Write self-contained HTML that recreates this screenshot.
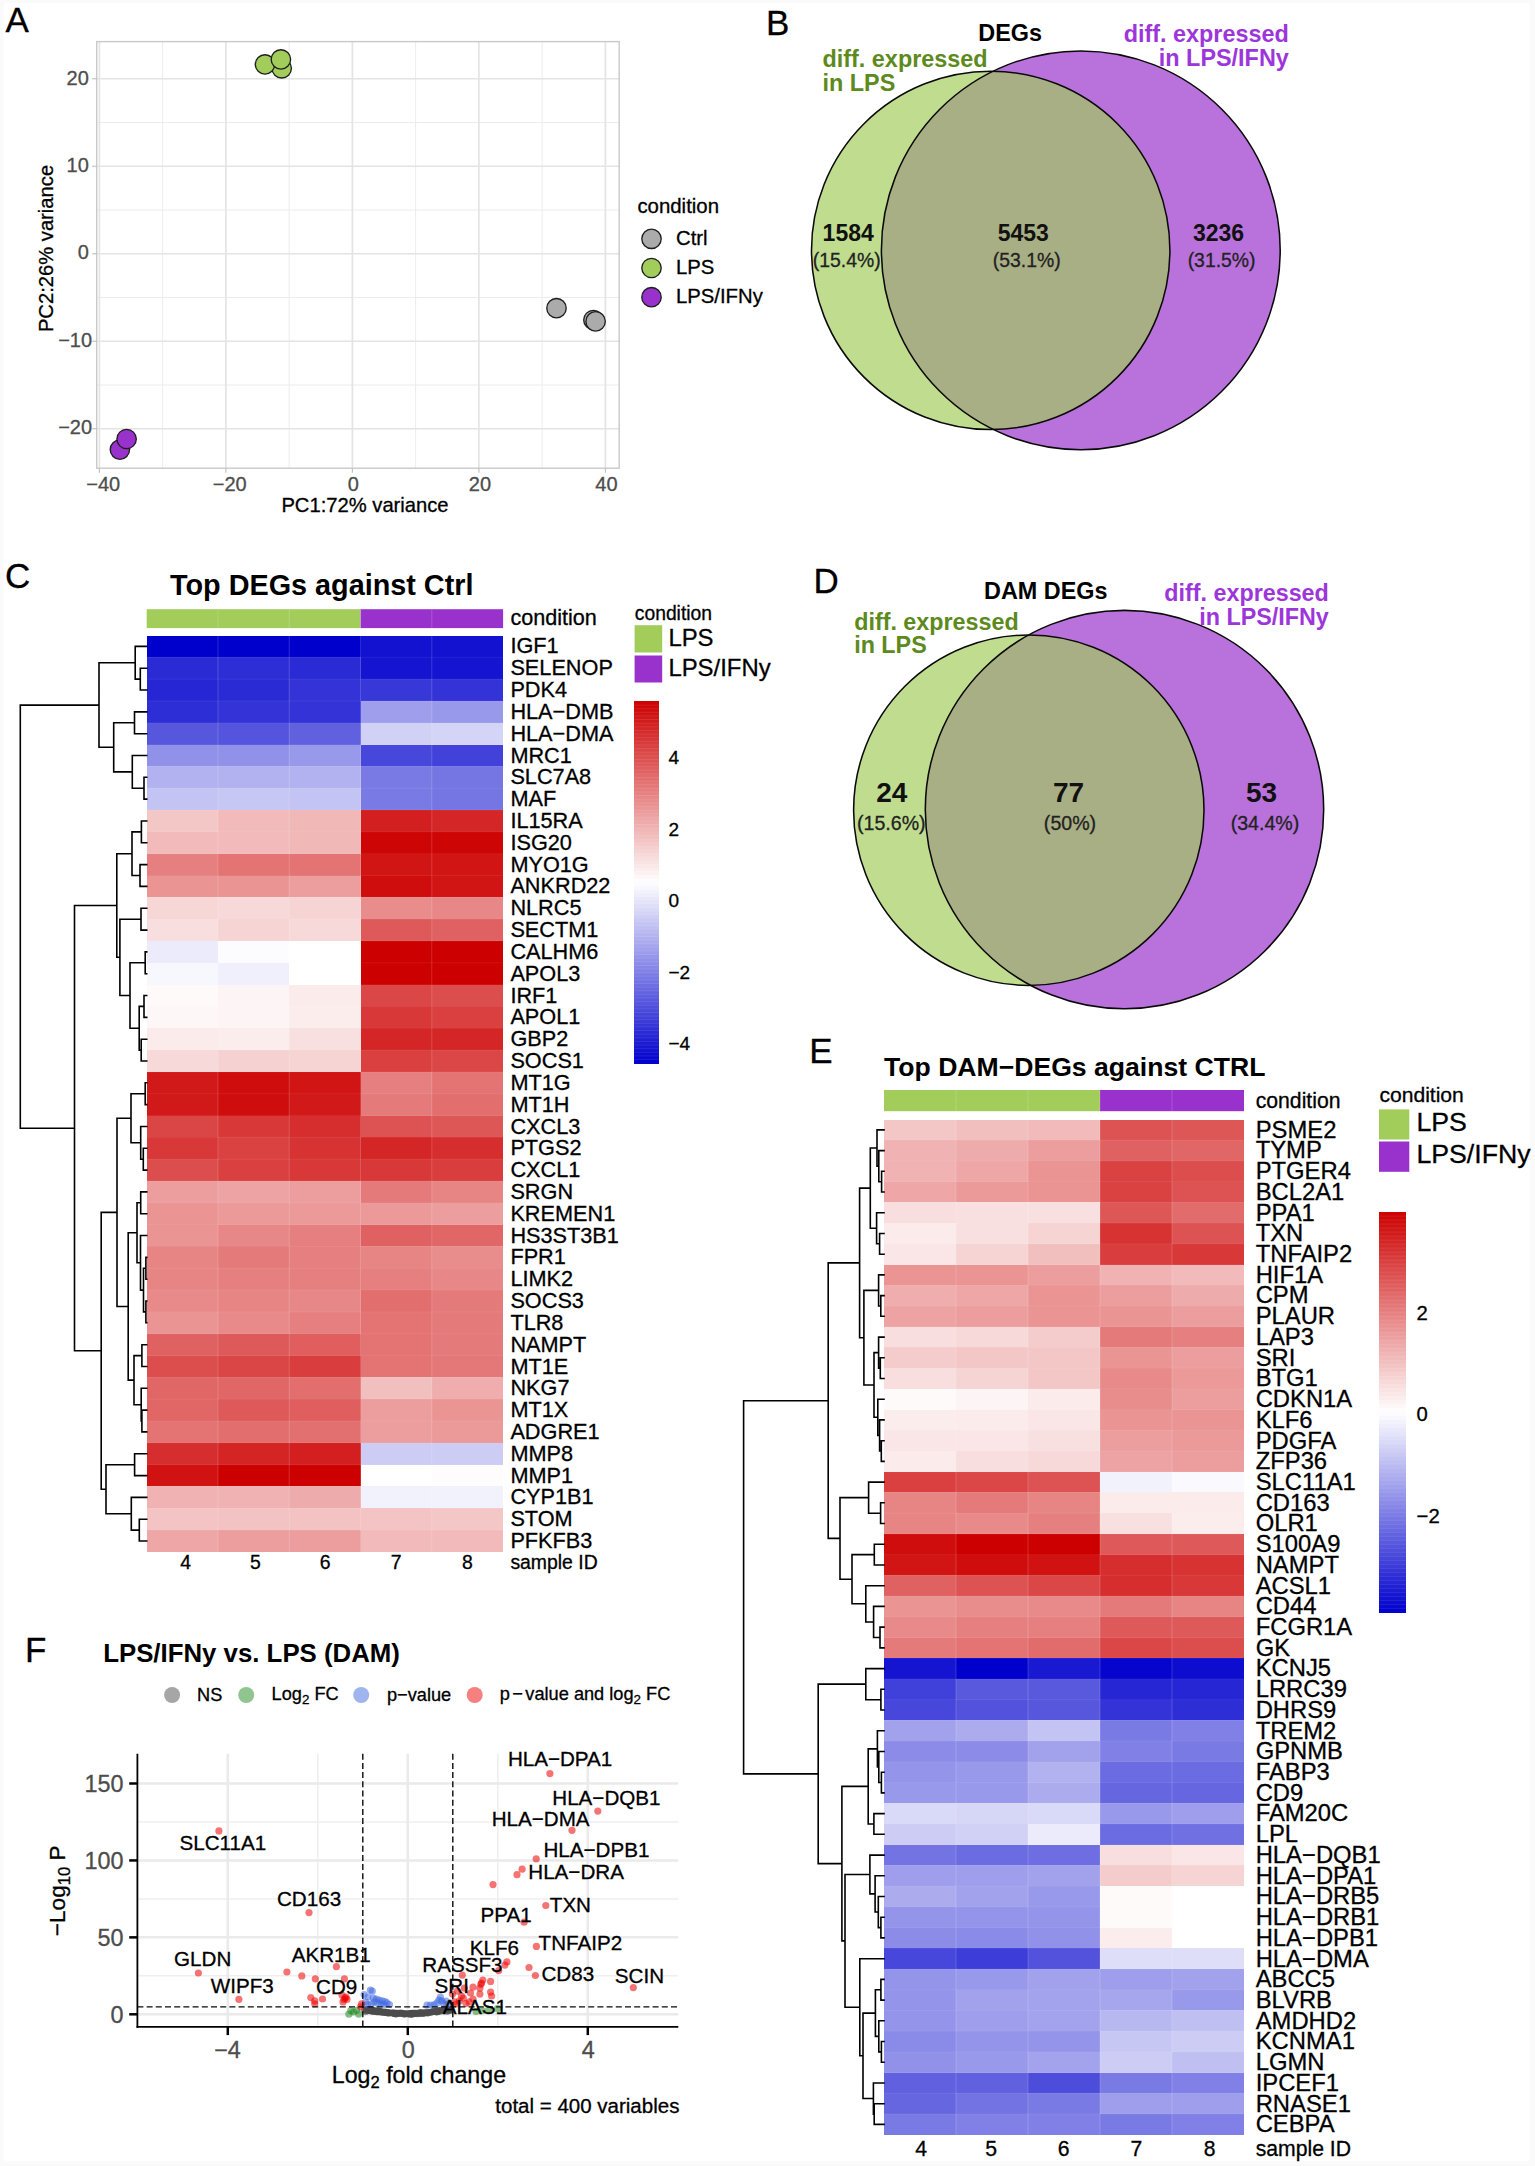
<!DOCTYPE html>
<html lang="en">
<head>
<meta charset="utf-8">
<title>Figure</title>
<style>
html,body{margin:0;padding:0;background:#fafafa;}
svg{display:block;font-family:"Liberation Sans",Arial,Helvetica,sans-serif;}
</style>
</head>
<body>
<svg width="1535" height="2166" viewBox="0 0 1535 2166">
<rect x="0" y="0" width="1535" height="2166" fill="#fafafa"/>
<rect x="3.5" y="3" width="1526.5" height="2158" rx="4" fill="#fff"/>
<g id="panelA">
<text x="5.5" y="31.8" font-size="35" stroke="#000" stroke-width="0.3">A</text>
<line x1="162.65" y1="41.60" x2="162.65" y2="468.20" stroke="#ececec" stroke-width="1.0"/>
<line x1="289.15" y1="41.60" x2="289.15" y2="468.20" stroke="#ececec" stroke-width="1.0"/>
<line x1="415.65" y1="41.60" x2="415.65" y2="468.20" stroke="#ececec" stroke-width="1.0"/>
<line x1="542.15" y1="41.60" x2="542.15" y2="468.20" stroke="#ececec" stroke-width="1.0"/>
<line x1="96.70" y1="385.00" x2="619.20" y2="385.00" stroke="#ececec" stroke-width="1.0"/>
<line x1="96.70" y1="297.50" x2="619.20" y2="297.50" stroke="#ececec" stroke-width="1.0"/>
<line x1="96.70" y1="210.00" x2="619.20" y2="210.00" stroke="#ececec" stroke-width="1.0"/>
<line x1="96.70" y1="122.50" x2="619.20" y2="122.50" stroke="#ececec" stroke-width="1.0"/>
<line x1="99.40" y1="41.60" x2="99.40" y2="468.20" stroke="#e4e4e4" stroke-width="1.7"/>
<line x1="225.90" y1="41.60" x2="225.90" y2="468.20" stroke="#e4e4e4" stroke-width="1.7"/>
<line x1="352.40" y1="41.60" x2="352.40" y2="468.20" stroke="#e4e4e4" stroke-width="1.7"/>
<line x1="478.90" y1="41.60" x2="478.90" y2="468.20" stroke="#e4e4e4" stroke-width="1.7"/>
<line x1="605.40" y1="41.60" x2="605.40" y2="468.20" stroke="#e4e4e4" stroke-width="1.7"/>
<line x1="96.70" y1="428.75" x2="619.20" y2="428.75" stroke="#e4e4e4" stroke-width="1.7"/>
<line x1="96.70" y1="341.25" x2="619.20" y2="341.25" stroke="#e4e4e4" stroke-width="1.7"/>
<line x1="96.70" y1="253.75" x2="619.20" y2="253.75" stroke="#e4e4e4" stroke-width="1.7"/>
<line x1="96.70" y1="166.25" x2="619.20" y2="166.25" stroke="#e4e4e4" stroke-width="1.7"/>
<line x1="96.70" y1="78.75" x2="619.20" y2="78.75" stroke="#e4e4e4" stroke-width="1.7"/>
<rect x="96.7" y="41.6" width="522.5" height="426.6" fill="none" stroke="#c9c9c9" stroke-width="1.4"/>
<line x1="99.40" y1="468.20" x2="99.40" y2="472.70" stroke="#bdbdbd" stroke-width="1.1"/>
<text x="103.2" y="490.7" font-size="20" text-anchor="middle" fill="#4d4d4d" stroke="#4d4d4d" stroke-width="0.3">−40</text>
<line x1="225.90" y1="468.20" x2="225.90" y2="472.70" stroke="#bdbdbd" stroke-width="1.1"/>
<text x="229.7" y="490.7" font-size="20" text-anchor="middle" fill="#4d4d4d" stroke="#4d4d4d" stroke-width="0.3">−20</text>
<line x1="352.40" y1="468.20" x2="352.40" y2="472.70" stroke="#bdbdbd" stroke-width="1.1"/>
<text x="353.2" y="490.7" font-size="20" text-anchor="middle" fill="#4d4d4d" stroke="#4d4d4d" stroke-width="0.3">0</text>
<line x1="478.90" y1="468.20" x2="478.90" y2="472.70" stroke="#bdbdbd" stroke-width="1.1"/>
<text x="479.9" y="490.7" font-size="20" text-anchor="middle" fill="#4d4d4d" stroke="#4d4d4d" stroke-width="0.3">20</text>
<line x1="605.40" y1="468.20" x2="605.40" y2="472.70" stroke="#bdbdbd" stroke-width="1.1"/>
<text x="606.4" y="490.7" font-size="20" text-anchor="middle" fill="#4d4d4d" stroke="#4d4d4d" stroke-width="0.3">40</text>
<line x1="92.20" y1="428.75" x2="96.70" y2="428.75" stroke="#bdbdbd" stroke-width="1.1"/>
<text x="92.1" y="434.4" font-size="20" text-anchor="end" fill="#4d4d4d" stroke="#4d4d4d" stroke-width="0.3">−20</text>
<line x1="92.20" y1="341.25" x2="96.70" y2="341.25" stroke="#bdbdbd" stroke-width="1.1"/>
<text x="92.1" y="346.9" font-size="20" text-anchor="end" fill="#4d4d4d" stroke="#4d4d4d" stroke-width="0.3">−10</text>
<line x1="92.20" y1="253.75" x2="96.70" y2="253.75" stroke="#bdbdbd" stroke-width="1.1"/>
<text x="88.8" y="259.4" font-size="20" text-anchor="end" fill="#4d4d4d" stroke="#4d4d4d" stroke-width="0.3">0</text>
<line x1="92.20" y1="166.25" x2="96.70" y2="166.25" stroke="#bdbdbd" stroke-width="1.1"/>
<text x="88.8" y="171.9" font-size="20" text-anchor="end" fill="#4d4d4d" stroke="#4d4d4d" stroke-width="0.3">10</text>
<line x1="92.20" y1="78.75" x2="96.70" y2="78.75" stroke="#bdbdbd" stroke-width="1.1"/>
<text x="88.8" y="84.5" font-size="20" text-anchor="end" fill="#4d4d4d" stroke="#4d4d4d" stroke-width="0.3">20</text>
<text x="365.0" y="512.1" font-size="20.2" text-anchor="middle" stroke="#000" stroke-width="0.3">PC1:72% variance</text>
<text transform="translate(52.5,248.5) rotate(-90)" font-size="20.2" text-anchor="middle" stroke="#000" stroke-width="0.3">PC2:26% variance</text>
<circle cx="281.7" cy="68.3" r="9.7" fill="#A2CD5A" stroke="#1e1e1e" stroke-width="1.35"/>
<circle cx="265.0" cy="64.4" r="9.7" fill="#A2CD5A" stroke="#1e1e1e" stroke-width="1.35"/>
<circle cx="280.9" cy="59.4" r="9.7" fill="#A2CD5A" stroke="#1e1e1e" stroke-width="1.35"/>
<circle cx="119.9" cy="449.6" r="9.7" fill="#9932CC" stroke="#1e1e1e" stroke-width="1.35"/>
<circle cx="126.6" cy="439.0" r="9.7" fill="#9932CC" stroke="#1e1e1e" stroke-width="1.35"/>
<circle cx="556.5" cy="308.2" r="9.7" fill="#ababab" stroke="#1e1e1e" stroke-width="1.35"/>
<circle cx="593.4" cy="320.0" r="9.7" fill="#ababab" stroke="#1e1e1e" stroke-width="1.35"/>
<circle cx="595.6" cy="321.4" r="9.7" fill="#ababab" stroke="#1e1e1e" stroke-width="1.35"/>
<text x="637.4" y="213.0" font-size="20.4" stroke="#000" stroke-width="0.3">condition</text>
<circle cx="651.5" cy="238.8" r="9.7" fill="#ababab" stroke="#1e1e1e" stroke-width="1.35"/>
<text x="676.0" y="245.0" font-size="20.3" stroke="#000" stroke-width="0.3">Ctrl</text>
<circle cx="651.5" cy="268.0" r="9.7" fill="#A2CD5A" stroke="#1e1e1e" stroke-width="1.35"/>
<text x="676.0" y="274.2" font-size="20.3" stroke="#000" stroke-width="0.3">LPS</text>
<circle cx="651.5" cy="297.2" r="9.7" fill="#9932CC" stroke="#1e1e1e" stroke-width="1.35"/>
<text x="676.0" y="303.4" font-size="20.3" stroke="#000" stroke-width="0.3">LPS/IFNy</text>
</g>
<g id="panelB">
<circle cx="1080.8" cy="250.3" r="199.4" fill="#9932CC" fill-opacity="0.69"/>
<circle cx="990.7" cy="250.4" r="179.2" fill="#A2CD5A" fill-opacity="0.68"/>
<circle cx="1080.8" cy="250.3" r="199.4" fill="none" stroke="#0a0a0a" stroke-width="1.55"/>
<circle cx="990.7" cy="250.4" r="179.2" fill="none" stroke="#0a0a0a" stroke-width="1.55"/>
<text x="766.0" y="35.2" font-size="35" stroke="#000" stroke-width="0.3">B</text>
<text x="1010.2" y="40.7" font-size="23.4" text-anchor="middle" font-weight="bold">DEGs</text>
<text x="822.5" y="67.4" font-size="23.4" font-weight="bold" fill="#5d8a1c">diff. expressed</text>
<text x="822.5" y="91.3" font-size="23.4" font-weight="bold" fill="#5d8a1c">in LPS</text>
<text x="1288.8" y="41.6" font-size="23.4" text-anchor="end" font-weight="bold" fill="#9d36da">diff. expressed</text>
<text x="1288.8" y="65.9" font-size="23.4" text-anchor="end" font-weight="bold" fill="#9d36da">in LPS/IFNy</text>
<text x="848.2" y="240.7" font-size="23" text-anchor="middle" font-weight="bold" fill="#111">1584</text>
<text x="846.7" y="267.3" font-size="19.4" text-anchor="middle" fill="#222" stroke="#222" stroke-width="0.3">(15.4%)</text>
<text x="1023.3" y="240.7" font-size="23" text-anchor="middle" font-weight="bold" fill="#111">5453</text>
<text x="1026.8" y="267.3" font-size="19.4" text-anchor="middle" fill="#222" stroke="#222" stroke-width="0.3">(53.1%)</text>
<text x="1218.6" y="240.7" font-size="23" text-anchor="middle" font-weight="bold" fill="#111">3236</text>
<text x="1221.6" y="267.3" font-size="19.4" text-anchor="middle" fill="#222" stroke="#222" stroke-width="0.3">(31.5%)</text>
</g>
<g id="panelD">
<circle cx="1124.5" cy="809.6" r="199.2" fill="#9932CC" fill-opacity="0.69"/>
<circle cx="1028.8" cy="810.2" r="175.2" fill="#A2CD5A" fill-opacity="0.68"/>
<circle cx="1124.5" cy="809.6" r="199.2" fill="none" stroke="#0a0a0a" stroke-width="1.55"/>
<circle cx="1028.8" cy="810.2" r="175.2" fill="none" stroke="#0a0a0a" stroke-width="1.55"/>
<text x="813.5" y="593.0" font-size="35" stroke="#000" stroke-width="0.3">D</text>
<text x="1045.8" y="599.0" font-size="23.4" text-anchor="middle" font-weight="bold">DAM DEGs</text>
<text x="854.2" y="629.5" font-size="23.3" font-weight="bold" fill="#5d8a1c">diff. expressed</text>
<text x="854.2" y="653.3" font-size="23.3" font-weight="bold" fill="#5d8a1c">in LPS</text>
<text x="1328.8" y="600.9" font-size="23.3" text-anchor="end" font-weight="bold" fill="#9d36da">diff. expressed</text>
<text x="1328.8" y="624.7" font-size="23.3" text-anchor="end" font-weight="bold" fill="#9d36da">in LPS/IFNy</text>
<text x="891.8" y="802.3" font-size="28" text-anchor="middle" font-weight="bold" fill="#111">24</text>
<text x="891.3" y="830.0" font-size="19.6" text-anchor="middle" fill="#222" stroke="#222" stroke-width="0.3">(15.6%)</text>
<text x="1068.5" y="802.3" font-size="28" text-anchor="middle" font-weight="bold" fill="#111">77</text>
<text x="1070.0" y="830.0" font-size="19.6" text-anchor="middle" fill="#222" stroke="#222" stroke-width="0.3">(50%)</text>
<text x="1261.5" y="802.3" font-size="28" text-anchor="middle" font-weight="bold" fill="#111">53</text>
<text x="1265.0" y="830.0" font-size="19.6" text-anchor="middle" fill="#222" stroke="#222" stroke-width="0.3">(34.4%)</text>
</g>
<text x="4.9" y="588.4" font-size="35" stroke="#000" stroke-width="0.3">C</text>
<text x="170.0" y="594.6" font-size="28.8" font-weight="bold">Top DEGs against Ctrl</text>
<g id="panelC">
<rect x="146.70" y="609.20" width="213.84" height="18.90" fill="#A2CD5A"/>
<rect x="360.54" y="609.20" width="142.56" height="18.90" fill="#9932CC"/>
<g shape-rendering="crispEdges">
<rect x="146.70" y="635.50" width="71.58" height="22.12" fill="#0000cd"/>
<rect x="217.98" y="635.50" width="71.58" height="22.12" fill="#0000cd"/>
<rect x="289.26" y="635.50" width="71.58" height="22.12" fill="#0000cd"/>
<rect x="360.54" y="635.50" width="71.58" height="22.12" fill="#1212d0"/>
<rect x="431.82" y="635.50" width="71.28" height="22.12" fill="#1212d0"/>
<rect x="146.70" y="657.32" width="71.58" height="22.12" fill="#2b2bd6"/>
<rect x="217.98" y="657.32" width="71.58" height="22.12" fill="#2e2ed6"/>
<rect x="289.26" y="657.32" width="71.58" height="22.12" fill="#2b2bd6"/>
<rect x="360.54" y="657.32" width="71.58" height="22.12" fill="#1414d1"/>
<rect x="431.82" y="657.32" width="71.28" height="22.12" fill="#1414d1"/>
<rect x="146.70" y="679.14" width="71.58" height="22.12" fill="#2626d4"/>
<rect x="217.98" y="679.14" width="71.58" height="22.12" fill="#2b2bd6"/>
<rect x="289.26" y="679.14" width="71.58" height="22.12" fill="#3333d7"/>
<rect x="360.54" y="679.14" width="71.58" height="22.12" fill="#3838d8"/>
<rect x="431.82" y="679.14" width="71.28" height="22.12" fill="#3333d7"/>
<rect x="146.70" y="700.96" width="71.58" height="22.12" fill="#2e2ed6"/>
<rect x="217.98" y="700.96" width="71.58" height="22.12" fill="#3333d7"/>
<rect x="289.26" y="700.96" width="71.58" height="22.12" fill="#3333d7"/>
<rect x="360.54" y="700.96" width="71.58" height="22.12" fill="#9e9eec"/>
<rect x="431.82" y="700.96" width="71.28" height="22.12" fill="#9999eb"/>
<rect x="146.70" y="722.78" width="71.58" height="22.12" fill="#5757de"/>
<rect x="217.98" y="722.78" width="71.58" height="22.12" fill="#5454de"/>
<rect x="289.26" y="722.78" width="71.58" height="22.12" fill="#6161e0"/>
<rect x="360.54" y="722.78" width="71.58" height="22.12" fill="#d1d1f6"/>
<rect x="431.82" y="722.78" width="71.28" height="22.12" fill="#d4d4f6"/>
<rect x="146.70" y="744.60" width="71.58" height="22.12" fill="#9191ea"/>
<rect x="217.98" y="744.60" width="71.58" height="22.12" fill="#9191ea"/>
<rect x="289.26" y="744.60" width="71.58" height="22.12" fill="#9999eb"/>
<rect x="360.54" y="744.60" width="71.58" height="22.12" fill="#4747db"/>
<rect x="431.82" y="744.60" width="71.28" height="22.12" fill="#4242da"/>
<rect x="146.70" y="766.42" width="71.58" height="22.12" fill="#b2b2f0"/>
<rect x="217.98" y="766.42" width="71.58" height="22.12" fill="#b2b2f0"/>
<rect x="289.26" y="766.42" width="71.58" height="22.12" fill="#b2b2f0"/>
<rect x="360.54" y="766.42" width="71.58" height="22.12" fill="#7a7ae5"/>
<rect x="431.82" y="766.42" width="71.28" height="22.12" fill="#7575e4"/>
<rect x="146.70" y="788.24" width="71.58" height="22.12" fill="#c4c4f4"/>
<rect x="217.98" y="788.24" width="71.58" height="22.12" fill="#c7c7f4"/>
<rect x="289.26" y="788.24" width="71.58" height="22.12" fill="#c4c4f4"/>
<rect x="360.54" y="788.24" width="71.58" height="22.12" fill="#7a7ae5"/>
<rect x="431.82" y="788.24" width="71.28" height="22.12" fill="#7575e4"/>
<rect x="146.70" y="810.06" width="71.58" height="22.12" fill="#f4c7c7"/>
<rect x="217.98" y="810.06" width="71.58" height="22.12" fill="#f2baba"/>
<rect x="289.26" y="810.06" width="71.58" height="22.12" fill="#f1b8b8"/>
<rect x="360.54" y="810.06" width="71.58" height="22.12" fill="#d31f1f"/>
<rect x="431.82" y="810.06" width="71.28" height="22.12" fill="#d42626"/>
<rect x="146.70" y="831.88" width="71.58" height="22.12" fill="#f2baba"/>
<rect x="217.98" y="831.88" width="71.58" height="22.12" fill="#f2baba"/>
<rect x="289.26" y="831.88" width="71.58" height="22.12" fill="#f1b8b8"/>
<rect x="360.54" y="831.88" width="71.58" height="22.12" fill="#ce0505"/>
<rect x="431.82" y="831.88" width="71.28" height="22.12" fill="#ce0505"/>
<rect x="146.70" y="853.70" width="71.58" height="22.12" fill="#e68080"/>
<rect x="217.98" y="853.70" width="71.58" height="22.12" fill="#e47373"/>
<rect x="289.26" y="853.70" width="71.58" height="22.12" fill="#e47373"/>
<rect x="360.54" y="853.70" width="71.58" height="22.12" fill="#d11414"/>
<rect x="431.82" y="853.70" width="71.28" height="22.12" fill="#d11414"/>
<rect x="146.70" y="875.52" width="71.58" height="22.12" fill="#ea9494"/>
<rect x="217.98" y="875.52" width="71.58" height="22.12" fill="#ea9494"/>
<rect x="289.26" y="875.52" width="71.58" height="22.12" fill="#ec9e9e"/>
<rect x="360.54" y="875.52" width="71.58" height="22.12" fill="#d00d0d"/>
<rect x="431.82" y="875.52" width="71.28" height="22.12" fill="#d11414"/>
<rect x="146.70" y="897.34" width="71.58" height="22.12" fill="#f7d6d6"/>
<rect x="217.98" y="897.34" width="71.58" height="22.12" fill="#f8d9d9"/>
<rect x="289.26" y="897.34" width="71.58" height="22.12" fill="#f6d4d4"/>
<rect x="360.54" y="897.34" width="71.58" height="22.12" fill="#e88c8c"/>
<rect x="431.82" y="897.34" width="71.28" height="22.12" fill="#e88787"/>
<rect x="146.70" y="919.16" width="71.58" height="22.12" fill="#f8dede"/>
<rect x="217.98" y="919.16" width="71.58" height="22.12" fill="#f6d4d4"/>
<rect x="289.26" y="919.16" width="71.58" height="22.12" fill="#f8d9d9"/>
<rect x="360.54" y="919.16" width="71.58" height="22.12" fill="#de5959"/>
<rect x="431.82" y="919.16" width="71.28" height="22.12" fill="#e06161"/>
<rect x="146.70" y="940.98" width="71.58" height="22.12" fill="#ebebfb"/>
<rect x="217.98" y="940.98" width="71.58" height="22.12" fill="#fcfcfe"/>
<rect x="289.26" y="940.98" width="71.58" height="22.12" fill="#ffffff"/>
<rect x="360.54" y="940.98" width="71.58" height="22.12" fill="#cd0000"/>
<rect x="431.82" y="940.98" width="71.28" height="22.12" fill="#cd0000"/>
<rect x="146.70" y="962.80" width="71.58" height="22.12" fill="#f7f7fe"/>
<rect x="217.98" y="962.80" width="71.58" height="22.12" fill="#f0f0fc"/>
<rect x="289.26" y="962.80" width="71.58" height="22.12" fill="#ffffff"/>
<rect x="360.54" y="962.80" width="71.58" height="22.12" fill="#cd0000"/>
<rect x="431.82" y="962.80" width="71.28" height="22.12" fill="#cd0000"/>
<rect x="146.70" y="984.62" width="71.58" height="22.12" fill="#fefafa"/>
<rect x="217.98" y="984.62" width="71.58" height="22.12" fill="#fdf5f5"/>
<rect x="289.26" y="984.62" width="71.58" height="22.12" fill="#fbebeb"/>
<rect x="360.54" y="984.62" width="71.58" height="22.12" fill="#db4747"/>
<rect x="431.82" y="984.62" width="71.28" height="22.12" fill="#dc4d4d"/>
<rect x="146.70" y="1006.44" width="71.58" height="22.12" fill="#fef7f7"/>
<rect x="217.98" y="1006.44" width="71.58" height="22.12" fill="#fdf5f5"/>
<rect x="289.26" y="1006.44" width="71.58" height="22.12" fill="#fceded"/>
<rect x="360.54" y="1006.44" width="71.58" height="22.12" fill="#d83838"/>
<rect x="431.82" y="1006.44" width="71.28" height="22.12" fill="#da4040"/>
<rect x="146.70" y="1028.26" width="71.58" height="22.12" fill="#fbebeb"/>
<rect x="217.98" y="1028.26" width="71.58" height="22.12" fill="#fceded"/>
<rect x="289.26" y="1028.26" width="71.58" height="22.12" fill="#f9e0e0"/>
<rect x="360.54" y="1028.26" width="71.58" height="22.12" fill="#d42626"/>
<rect x="431.82" y="1028.26" width="71.28" height="22.12" fill="#d42626"/>
<rect x="146.70" y="1050.08" width="71.58" height="22.12" fill="#f8d9d9"/>
<rect x="217.98" y="1050.08" width="71.58" height="22.12" fill="#f6d1d1"/>
<rect x="289.26" y="1050.08" width="71.58" height="22.12" fill="#f6d4d4"/>
<rect x="360.54" y="1050.08" width="71.58" height="22.12" fill="#da4040"/>
<rect x="431.82" y="1050.08" width="71.28" height="22.12" fill="#db4747"/>
<rect x="146.70" y="1071.90" width="71.58" height="22.12" fill="#d21919"/>
<rect x="217.98" y="1071.90" width="71.58" height="22.12" fill="#d00d0d"/>
<rect x="289.26" y="1071.90" width="71.58" height="22.12" fill="#d11414"/>
<rect x="360.54" y="1071.90" width="71.58" height="22.12" fill="#e68080"/>
<rect x="431.82" y="1071.90" width="71.28" height="22.12" fill="#e47373"/>
<rect x="146.70" y="1093.72" width="71.58" height="22.12" fill="#d21919"/>
<rect x="217.98" y="1093.72" width="71.58" height="22.12" fill="#d00d0d"/>
<rect x="289.26" y="1093.72" width="71.58" height="22.12" fill="#d21919"/>
<rect x="360.54" y="1093.72" width="71.58" height="22.12" fill="#e57a7a"/>
<rect x="431.82" y="1093.72" width="71.28" height="22.12" fill="#e26e6e"/>
<rect x="146.70" y="1115.54" width="71.58" height="22.12" fill="#da4545"/>
<rect x="217.98" y="1115.54" width="71.58" height="22.12" fill="#d83838"/>
<rect x="289.26" y="1115.54" width="71.58" height="22.12" fill="#d62e2e"/>
<rect x="360.54" y="1115.54" width="71.58" height="22.12" fill="#dd5252"/>
<rect x="431.82" y="1115.54" width="71.28" height="22.12" fill="#de5757"/>
<rect x="146.70" y="1137.36" width="71.58" height="22.12" fill="#d83838"/>
<rect x="217.98" y="1137.36" width="71.58" height="22.12" fill="#da4242"/>
<rect x="289.26" y="1137.36" width="71.58" height="22.12" fill="#d73333"/>
<rect x="360.54" y="1137.36" width="71.58" height="22.12" fill="#d42626"/>
<rect x="431.82" y="1137.36" width="71.28" height="22.12" fill="#d62e2e"/>
<rect x="146.70" y="1159.18" width="71.58" height="22.12" fill="#dc4d4d"/>
<rect x="217.98" y="1159.18" width="71.58" height="22.12" fill="#da4040"/>
<rect x="289.26" y="1159.18" width="71.58" height="22.12" fill="#d83838"/>
<rect x="360.54" y="1159.18" width="71.58" height="22.12" fill="#d83838"/>
<rect x="431.82" y="1159.18" width="71.28" height="22.12" fill="#d93d3d"/>
<rect x="146.70" y="1181.00" width="71.58" height="22.12" fill="#ec9e9e"/>
<rect x="217.98" y="1181.00" width="71.58" height="22.12" fill="#eda3a3"/>
<rect x="289.26" y="1181.00" width="71.58" height="22.12" fill="#ec9e9e"/>
<rect x="360.54" y="1181.00" width="71.58" height="22.12" fill="#e57a7a"/>
<rect x="431.82" y="1181.00" width="71.28" height="22.12" fill="#e78585"/>
<rect x="146.70" y="1202.82" width="71.58" height="22.12" fill="#ea9494"/>
<rect x="217.98" y="1202.82" width="71.58" height="22.12" fill="#eb9999"/>
<rect x="289.26" y="1202.82" width="71.58" height="22.12" fill="#eb9999"/>
<rect x="360.54" y="1202.82" width="71.58" height="22.12" fill="#eb9999"/>
<rect x="431.82" y="1202.82" width="71.28" height="22.12" fill="#ec9e9e"/>
<rect x="146.70" y="1224.64" width="71.58" height="22.12" fill="#ea9494"/>
<rect x="217.98" y="1224.64" width="71.58" height="22.12" fill="#e88787"/>
<rect x="289.26" y="1224.64" width="71.58" height="22.12" fill="#e68080"/>
<rect x="360.54" y="1224.64" width="71.58" height="22.12" fill="#e06161"/>
<rect x="431.82" y="1224.64" width="71.28" height="22.12" fill="#e16666"/>
<rect x="146.70" y="1246.46" width="71.58" height="22.12" fill="#e78585"/>
<rect x="217.98" y="1246.46" width="71.58" height="22.12" fill="#e57a7a"/>
<rect x="289.26" y="1246.46" width="71.58" height="22.12" fill="#e68080"/>
<rect x="360.54" y="1246.46" width="71.58" height="22.12" fill="#e78585"/>
<rect x="431.82" y="1246.46" width="71.28" height="22.12" fill="#e88c8c"/>
<rect x="146.70" y="1268.28" width="71.58" height="22.12" fill="#e78585"/>
<rect x="217.98" y="1268.28" width="71.58" height="22.12" fill="#e68080"/>
<rect x="289.26" y="1268.28" width="71.58" height="22.12" fill="#e68080"/>
<rect x="360.54" y="1268.28" width="71.58" height="22.12" fill="#e68080"/>
<rect x="431.82" y="1268.28" width="71.28" height="22.12" fill="#e88787"/>
<rect x="146.70" y="1290.10" width="71.58" height="22.12" fill="#e88a8a"/>
<rect x="217.98" y="1290.10" width="71.58" height="22.12" fill="#e78585"/>
<rect x="289.26" y="1290.10" width="71.58" height="22.12" fill="#e88787"/>
<rect x="360.54" y="1290.10" width="71.58" height="22.12" fill="#e26e6e"/>
<rect x="431.82" y="1290.10" width="71.28" height="22.12" fill="#e57a7a"/>
<rect x="146.70" y="1311.92" width="71.58" height="22.12" fill="#ea9494"/>
<rect x="217.98" y="1311.92" width="71.58" height="22.12" fill="#e88a8a"/>
<rect x="289.26" y="1311.92" width="71.58" height="22.12" fill="#e68080"/>
<rect x="360.54" y="1311.92" width="71.58" height="22.12" fill="#e47373"/>
<rect x="431.82" y="1311.92" width="71.28" height="22.12" fill="#e57a7a"/>
<rect x="146.70" y="1333.74" width="71.58" height="22.12" fill="#e06161"/>
<rect x="217.98" y="1333.74" width="71.58" height="22.12" fill="#de5959"/>
<rect x="289.26" y="1333.74" width="71.58" height="22.12" fill="#e05e5e"/>
<rect x="360.54" y="1333.74" width="71.58" height="22.12" fill="#e47373"/>
<rect x="431.82" y="1333.74" width="71.28" height="22.12" fill="#e57a7a"/>
<rect x="146.70" y="1355.56" width="71.58" height="22.12" fill="#dc4d4d"/>
<rect x="217.98" y="1355.56" width="71.58" height="22.12" fill="#da4545"/>
<rect x="289.26" y="1355.56" width="71.58" height="22.12" fill="#d93d3d"/>
<rect x="360.54" y="1355.56" width="71.58" height="22.12" fill="#e47373"/>
<rect x="431.82" y="1355.56" width="71.28" height="22.12" fill="#e47878"/>
<rect x="146.70" y="1377.38" width="71.58" height="22.12" fill="#e16666"/>
<rect x="217.98" y="1377.38" width="71.58" height="22.12" fill="#e16666"/>
<rect x="289.26" y="1377.38" width="71.58" height="22.12" fill="#e26e6e"/>
<rect x="360.54" y="1377.38" width="71.58" height="22.12" fill="#f2bfbf"/>
<rect x="431.82" y="1377.38" width="71.28" height="22.12" fill="#efadad"/>
<rect x="146.70" y="1399.20" width="71.58" height="22.12" fill="#e16666"/>
<rect x="217.98" y="1399.20" width="71.58" height="22.12" fill="#de5959"/>
<rect x="289.26" y="1399.20" width="71.58" height="22.12" fill="#e05e5e"/>
<rect x="360.54" y="1399.20" width="71.58" height="22.12" fill="#ec9e9e"/>
<rect x="431.82" y="1399.20" width="71.28" height="22.12" fill="#ea9494"/>
<rect x="146.70" y="1421.02" width="71.58" height="22.12" fill="#e47373"/>
<rect x="217.98" y="1421.02" width="71.58" height="22.12" fill="#e26e6e"/>
<rect x="289.26" y="1421.02" width="71.58" height="22.12" fill="#e37070"/>
<rect x="360.54" y="1421.02" width="71.58" height="22.12" fill="#ec9e9e"/>
<rect x="431.82" y="1421.02" width="71.28" height="22.12" fill="#eb9999"/>
<rect x="146.70" y="1442.84" width="71.58" height="22.12" fill="#d62e2e"/>
<rect x="217.98" y="1442.84" width="71.58" height="22.12" fill="#d42424"/>
<rect x="289.26" y="1442.84" width="71.58" height="22.12" fill="#d31f1f"/>
<rect x="360.54" y="1442.84" width="71.58" height="22.12" fill="#ccccf5"/>
<rect x="431.82" y="1442.84" width="71.28" height="22.12" fill="#ccccf5"/>
<rect x="146.70" y="1464.66" width="71.58" height="22.12" fill="#d01212"/>
<rect x="217.98" y="1464.66" width="71.58" height="22.12" fill="#cd0000"/>
<rect x="289.26" y="1464.66" width="71.58" height="22.12" fill="#cd0000"/>
<rect x="360.54" y="1464.66" width="71.58" height="22.12" fill="#ffffff"/>
<rect x="431.82" y="1464.66" width="71.28" height="22.12" fill="#fefcfc"/>
<rect x="146.70" y="1486.48" width="71.58" height="22.12" fill="#f0b2b2"/>
<rect x="217.98" y="1486.48" width="71.58" height="22.12" fill="#f0b2b2"/>
<rect x="289.26" y="1486.48" width="71.58" height="22.12" fill="#eeabab"/>
<rect x="360.54" y="1486.48" width="71.58" height="22.12" fill="#f2f2fc"/>
<rect x="431.82" y="1486.48" width="71.28" height="22.12" fill="#f2f2fc"/>
<rect x="146.70" y="1508.30" width="71.58" height="22.12" fill="#f4c4c4"/>
<rect x="217.98" y="1508.30" width="71.58" height="22.12" fill="#f3c2c2"/>
<rect x="289.26" y="1508.30" width="71.58" height="22.12" fill="#f3c2c2"/>
<rect x="360.54" y="1508.30" width="71.58" height="22.12" fill="#f4c4c4"/>
<rect x="431.82" y="1508.30" width="71.28" height="22.12" fill="#f4c7c7"/>
<rect x="146.70" y="1530.12" width="71.58" height="21.82" fill="#eea6a6"/>
<rect x="217.98" y="1530.12" width="71.58" height="21.82" fill="#ec9e9e"/>
<rect x="289.26" y="1530.12" width="71.58" height="21.82" fill="#ec9e9e"/>
<rect x="360.54" y="1530.12" width="71.58" height="21.82" fill="#f2baba"/>
<rect x="431.82" y="1530.12" width="71.28" height="21.82" fill="#f2baba"/>
</g>
<line x1="217.98" y1="609.20" x2="217.98" y2="628.10" stroke="#fff" stroke-width="0.8" stroke-opacity="0.22"/>
<line x1="217.98" y1="635.50" x2="217.98" y2="1551.94" stroke="#fff" stroke-width="0.8" stroke-opacity="0.22"/>
<line x1="289.26" y1="609.20" x2="289.26" y2="628.10" stroke="#fff" stroke-width="0.8" stroke-opacity="0.22"/>
<line x1="289.26" y1="635.50" x2="289.26" y2="1551.94" stroke="#fff" stroke-width="0.8" stroke-opacity="0.22"/>
<line x1="360.54" y1="609.20" x2="360.54" y2="628.10" stroke="#fff" stroke-width="0.8" stroke-opacity="0.22"/>
<line x1="360.54" y1="635.50" x2="360.54" y2="1551.94" stroke="#fff" stroke-width="0.8" stroke-opacity="0.22"/>
<line x1="431.82" y1="609.20" x2="431.82" y2="628.10" stroke="#fff" stroke-width="0.8" stroke-opacity="0.22"/>
<line x1="431.82" y1="635.50" x2="431.82" y2="1551.94" stroke="#fff" stroke-width="0.8" stroke-opacity="0.22"/>
<line x1="146.70" y1="657.32" x2="503.10" y2="657.32" stroke="#fff" stroke-width="0.6" stroke-opacity="0.12"/>
<line x1="146.70" y1="679.14" x2="503.10" y2="679.14" stroke="#fff" stroke-width="0.6" stroke-opacity="0.12"/>
<line x1="146.70" y1="700.96" x2="503.10" y2="700.96" stroke="#fff" stroke-width="0.6" stroke-opacity="0.12"/>
<line x1="146.70" y1="722.78" x2="503.10" y2="722.78" stroke="#fff" stroke-width="0.6" stroke-opacity="0.12"/>
<line x1="146.70" y1="744.60" x2="503.10" y2="744.60" stroke="#fff" stroke-width="0.6" stroke-opacity="0.12"/>
<line x1="146.70" y1="766.42" x2="503.10" y2="766.42" stroke="#fff" stroke-width="0.6" stroke-opacity="0.12"/>
<line x1="146.70" y1="788.24" x2="503.10" y2="788.24" stroke="#fff" stroke-width="0.6" stroke-opacity="0.12"/>
<line x1="146.70" y1="810.06" x2="503.10" y2="810.06" stroke="#fff" stroke-width="0.6" stroke-opacity="0.12"/>
<line x1="146.70" y1="831.88" x2="503.10" y2="831.88" stroke="#fff" stroke-width="0.6" stroke-opacity="0.12"/>
<line x1="146.70" y1="853.70" x2="503.10" y2="853.70" stroke="#fff" stroke-width="0.6" stroke-opacity="0.12"/>
<line x1="146.70" y1="875.52" x2="503.10" y2="875.52" stroke="#fff" stroke-width="0.6" stroke-opacity="0.12"/>
<line x1="146.70" y1="897.34" x2="503.10" y2="897.34" stroke="#fff" stroke-width="0.6" stroke-opacity="0.12"/>
<line x1="146.70" y1="919.16" x2="503.10" y2="919.16" stroke="#fff" stroke-width="0.6" stroke-opacity="0.12"/>
<line x1="146.70" y1="940.98" x2="503.10" y2="940.98" stroke="#fff" stroke-width="0.6" stroke-opacity="0.12"/>
<line x1="146.70" y1="962.80" x2="503.10" y2="962.80" stroke="#fff" stroke-width="0.6" stroke-opacity="0.12"/>
<line x1="146.70" y1="984.62" x2="503.10" y2="984.62" stroke="#fff" stroke-width="0.6" stroke-opacity="0.12"/>
<line x1="146.70" y1="1006.44" x2="503.10" y2="1006.44" stroke="#fff" stroke-width="0.6" stroke-opacity="0.12"/>
<line x1="146.70" y1="1028.26" x2="503.10" y2="1028.26" stroke="#fff" stroke-width="0.6" stroke-opacity="0.12"/>
<line x1="146.70" y1="1050.08" x2="503.10" y2="1050.08" stroke="#fff" stroke-width="0.6" stroke-opacity="0.12"/>
<line x1="146.70" y1="1071.90" x2="503.10" y2="1071.90" stroke="#fff" stroke-width="0.6" stroke-opacity="0.12"/>
<line x1="146.70" y1="1093.72" x2="503.10" y2="1093.72" stroke="#fff" stroke-width="0.6" stroke-opacity="0.12"/>
<line x1="146.70" y1="1115.54" x2="503.10" y2="1115.54" stroke="#fff" stroke-width="0.6" stroke-opacity="0.12"/>
<line x1="146.70" y1="1137.36" x2="503.10" y2="1137.36" stroke="#fff" stroke-width="0.6" stroke-opacity="0.12"/>
<line x1="146.70" y1="1159.18" x2="503.10" y2="1159.18" stroke="#fff" stroke-width="0.6" stroke-opacity="0.12"/>
<line x1="146.70" y1="1181.00" x2="503.10" y2="1181.00" stroke="#fff" stroke-width="0.6" stroke-opacity="0.12"/>
<line x1="146.70" y1="1202.82" x2="503.10" y2="1202.82" stroke="#fff" stroke-width="0.6" stroke-opacity="0.12"/>
<line x1="146.70" y1="1224.64" x2="503.10" y2="1224.64" stroke="#fff" stroke-width="0.6" stroke-opacity="0.12"/>
<line x1="146.70" y1="1246.46" x2="503.10" y2="1246.46" stroke="#fff" stroke-width="0.6" stroke-opacity="0.12"/>
<line x1="146.70" y1="1268.28" x2="503.10" y2="1268.28" stroke="#fff" stroke-width="0.6" stroke-opacity="0.12"/>
<line x1="146.70" y1="1290.10" x2="503.10" y2="1290.10" stroke="#fff" stroke-width="0.6" stroke-opacity="0.12"/>
<line x1="146.70" y1="1311.92" x2="503.10" y2="1311.92" stroke="#fff" stroke-width="0.6" stroke-opacity="0.12"/>
<line x1="146.70" y1="1333.74" x2="503.10" y2="1333.74" stroke="#fff" stroke-width="0.6" stroke-opacity="0.12"/>
<line x1="146.70" y1="1355.56" x2="503.10" y2="1355.56" stroke="#fff" stroke-width="0.6" stroke-opacity="0.12"/>
<line x1="146.70" y1="1377.38" x2="503.10" y2="1377.38" stroke="#fff" stroke-width="0.6" stroke-opacity="0.12"/>
<line x1="146.70" y1="1399.20" x2="503.10" y2="1399.20" stroke="#fff" stroke-width="0.6" stroke-opacity="0.12"/>
<line x1="146.70" y1="1421.02" x2="503.10" y2="1421.02" stroke="#fff" stroke-width="0.6" stroke-opacity="0.12"/>
<line x1="146.70" y1="1442.84" x2="503.10" y2="1442.84" stroke="#fff" stroke-width="0.6" stroke-opacity="0.12"/>
<line x1="146.70" y1="1464.66" x2="503.10" y2="1464.66" stroke="#fff" stroke-width="0.6" stroke-opacity="0.12"/>
<line x1="146.70" y1="1486.48" x2="503.10" y2="1486.48" stroke="#fff" stroke-width="0.6" stroke-opacity="0.12"/>
<line x1="146.70" y1="1508.30" x2="503.10" y2="1508.30" stroke="#fff" stroke-width="0.6" stroke-opacity="0.12"/>
<line x1="146.70" y1="1530.12" x2="503.10" y2="1530.12" stroke="#fff" stroke-width="0.6" stroke-opacity="0.12"/>
<g font-size="21.7" stroke="#000" stroke-width="0.3">
<text x="510.4" y="653.4">IGF1</text>
<text x="510.4" y="675.2">SELENOP</text>
<text x="510.4" y="697.0">PDK4</text>
<text x="510.4" y="718.9">HLA−DMB</text>
<text x="510.4" y="740.7">HLA−DMA</text>
<text x="510.4" y="762.5">MRC1</text>
<text x="510.4" y="784.3">SLC7A8</text>
<text x="510.4" y="806.1">MAF</text>
<text x="510.4" y="828.0">IL15RA</text>
<text x="510.4" y="849.8">ISG20</text>
<text x="510.4" y="871.6">MYO1G</text>
<text x="510.4" y="893.4">ANKRD22</text>
<text x="510.4" y="915.2">NLRC5</text>
<text x="510.4" y="937.1">SECTM1</text>
<text x="510.4" y="958.9">CALHM6</text>
<text x="510.4" y="980.7">APOL3</text>
<text x="510.4" y="1002.5">IRF1</text>
<text x="510.4" y="1024.3">APOL1</text>
<text x="510.4" y="1046.2">GBP2</text>
<text x="510.4" y="1068.0">SOCS1</text>
<text x="510.4" y="1089.8">MT1G</text>
<text x="510.4" y="1111.6">MT1H</text>
<text x="510.4" y="1133.5">CXCL3</text>
<text x="510.4" y="1155.3">PTGS2</text>
<text x="510.4" y="1177.1">CXCL1</text>
<text x="510.4" y="1198.9">SRGN</text>
<text x="510.4" y="1220.7">KREMEN1</text>
<text x="510.4" y="1242.5">HS3ST3B1</text>
<text x="510.4" y="1264.4">FPR1</text>
<text x="510.4" y="1286.2">LIMK2</text>
<text x="510.4" y="1308.0">SOCS3</text>
<text x="510.4" y="1329.8">TLR8</text>
<text x="510.4" y="1351.7">NAMPT</text>
<text x="510.4" y="1373.5">MT1E</text>
<text x="510.4" y="1395.3">NKG7</text>
<text x="510.4" y="1417.1">MT1X</text>
<text x="510.4" y="1438.9">ADGRE1</text>
<text x="510.4" y="1460.8">MMP8</text>
<text x="510.4" y="1482.6">MMP1</text>
<text x="510.4" y="1504.4">CYP1B1</text>
<text x="510.4" y="1526.2">STOM</text>
<text x="510.4" y="1548.0">PFKFB3</text>
</g>
<text x="510.4" y="625.4" font-size="21.6" stroke="#000" stroke-width="0.3">condition</text>
<text x="185.7" y="1569.0" font-size="19.4" text-anchor="middle" stroke="#000" stroke-width="0.3">4</text>
<text x="255.5" y="1569.0" font-size="19.4" text-anchor="middle" stroke="#000" stroke-width="0.3">5</text>
<text x="325.2" y="1569.0" font-size="19.4" text-anchor="middle" stroke="#000" stroke-width="0.3">6</text>
<text x="396.2" y="1569.0" font-size="19.4" text-anchor="middle" stroke="#000" stroke-width="0.3">7</text>
<text x="467.5" y="1569.0" font-size="19.4" text-anchor="middle" stroke="#000" stroke-width="0.3">8</text>
<text x="510.4" y="1569.0" font-size="19.4" stroke="#000" stroke-width="0.3">sample ID</text>
<path d="M146.7 668.2H140.3V690.0H146.7M146.7 646.4H135.2V679.1H140.3M146.7 711.9H134.5V733.7H146.7M146.7 777.3H144.0V799.1H146.7M146.7 755.5H132.3V788.2H144.0M134.5 722.8H113.7V771.9H132.3M135.2 662.8H99.0V747.3H113.7M146.7 821.0H141.4V842.8H146.7M146.7 864.6H140.0V886.4H146.7M141.4 831.9H132.0V875.5H140.0M146.7 908.2H141.0V930.1H146.7M146.7 951.9H145.2V973.7H146.7M146.7 995.5H144.0V1017.4H146.7M146.7 1039.2H141.2V1061.0H146.7M144.0 1006.4H139.2V1050.1H141.2M145.2 962.8H130.0V1028.3H139.2M141.0 919.2H119.9V995.5H130.0M132.0 853.7H116.8V957.3H119.9M146.7 1082.8H145.2V1104.6H146.7M146.7 1148.3H143.3V1170.1H146.7M146.7 1126.5H140.7V1159.2H143.3M145.2 1093.7H131.0V1142.8H140.7M146.7 1191.9H140.7V1213.7H146.7M146.7 1257.4H145.9V1279.2H146.7M146.7 1301.0H145.9V1322.8H146.7M145.9 1268.3H143.5V1311.9H145.9M146.7 1235.5H140.5V1290.1H143.5M140.7 1202.8H137.0V1262.8H140.5M146.7 1344.7H141.9V1366.5H146.7M146.7 1410.1H141.9V1431.9H146.7M146.7 1388.3H141.2V1421.0H141.9M141.9 1355.6H134.0V1404.7H141.2M137.0 1232.8H128.2V1380.1H134.0M131.0 1118.3H117.0V1306.5H128.2M146.7 1453.8H134.6V1475.6H146.7M146.7 1519.2H139.3V1541.0H146.7M146.7 1497.4H131.3V1530.1H139.3M134.6 1464.7H106.0V1513.8H131.3M117.0 1212.4H101.2V1489.2H106.0M116.8 905.5H74.5V1350.8H101.2M99.0 705.1H20.3V1128.2H74.5" fill="none" stroke="#000" stroke-width="1.6" stroke-linejoin="miter" stroke-linecap="square"/>
</g>
<text x="634.8" y="620.0" font-size="19.3" stroke="#000" stroke-width="0.3">condition</text>
<rect x="634.60" y="625.20" width="27.60" height="27.30" fill="#A2CD5A"/>
<rect x="634.60" y="655.50" width="27.60" height="27.00" fill="#9932CC"/>
<text x="668.4" y="645.9" font-size="23.9" stroke="#000" stroke-width="0.3">LPS</text>
<text x="668.4" y="676.2" font-size="23.9" stroke="#000" stroke-width="0.3">LPS/IFNy</text>
<g shape-rendering="crispEdges">
<rect x="634.20" y="701.40" width="24.60" height="3.92" fill="#ce0303"/>
<rect x="634.20" y="705.02" width="24.60" height="3.92" fill="#ce0808"/>
<rect x="634.20" y="708.64" width="24.60" height="3.92" fill="#d00d0d"/>
<rect x="634.20" y="712.25" width="24.60" height="3.92" fill="#d01212"/>
<rect x="634.20" y="715.87" width="24.60" height="3.92" fill="#d21717"/>
<rect x="634.20" y="719.49" width="24.60" height="3.92" fill="#d21c1c"/>
<rect x="634.20" y="723.11" width="24.60" height="3.92" fill="#d42121"/>
<rect x="634.20" y="726.73" width="24.60" height="3.92" fill="#d42626"/>
<rect x="634.20" y="730.34" width="24.60" height="3.92" fill="#d62b2b"/>
<rect x="634.20" y="733.96" width="24.60" height="3.92" fill="#d63030"/>
<rect x="634.20" y="737.58" width="24.60" height="3.92" fill="#d83636"/>
<rect x="634.20" y="741.20" width="24.60" height="3.92" fill="#d83b3b"/>
<rect x="634.20" y="744.82" width="24.60" height="3.92" fill="#da4040"/>
<rect x="634.20" y="748.43" width="24.60" height="3.92" fill="#da4545"/>
<rect x="634.20" y="752.05" width="24.60" height="3.92" fill="#dc4a4a"/>
<rect x="634.20" y="755.67" width="24.60" height="3.92" fill="#dc4f4f"/>
<rect x="634.20" y="759.29" width="24.60" height="3.92" fill="#de5454"/>
<rect x="634.20" y="762.91" width="24.60" height="3.92" fill="#de5959"/>
<rect x="634.20" y="766.52" width="24.60" height="3.92" fill="#e05e5e"/>
<rect x="634.20" y="770.14" width="24.60" height="3.92" fill="#e06363"/>
<rect x="634.20" y="773.76" width="24.60" height="3.92" fill="#e26969"/>
<rect x="634.20" y="777.38" width="24.60" height="3.92" fill="#e26e6e"/>
<rect x="634.20" y="781.00" width="24.60" height="3.92" fill="#e47373"/>
<rect x="634.20" y="784.61" width="24.60" height="3.92" fill="#e47878"/>
<rect x="634.20" y="788.23" width="24.60" height="3.92" fill="#e67d7d"/>
<rect x="634.20" y="791.85" width="24.60" height="3.92" fill="#e68282"/>
<rect x="634.20" y="795.47" width="24.60" height="3.92" fill="#e88787"/>
<rect x="634.20" y="799.09" width="24.60" height="3.92" fill="#e88c8c"/>
<rect x="634.20" y="802.70" width="24.60" height="3.92" fill="#ea9191"/>
<rect x="634.20" y="806.32" width="24.60" height="3.92" fill="#ea9696"/>
<rect x="634.20" y="809.94" width="24.60" height="3.92" fill="#ec9c9c"/>
<rect x="634.20" y="813.56" width="24.60" height="3.92" fill="#eca1a1"/>
<rect x="634.20" y="817.18" width="24.60" height="3.92" fill="#eea6a6"/>
<rect x="634.20" y="820.79" width="24.60" height="3.92" fill="#eeabab"/>
<rect x="634.20" y="824.41" width="24.60" height="3.92" fill="#f0b0b0"/>
<rect x="634.20" y="828.03" width="24.60" height="3.92" fill="#f0b5b5"/>
<rect x="634.20" y="831.65" width="24.60" height="3.92" fill="#f2baba"/>
<rect x="634.20" y="835.27" width="24.60" height="3.92" fill="#f2bfbf"/>
<rect x="634.20" y="838.88" width="24.60" height="3.92" fill="#f4c4c4"/>
<rect x="634.20" y="842.50" width="24.60" height="3.92" fill="#f4c9c9"/>
<rect x="634.20" y="846.12" width="24.60" height="3.92" fill="#f6cfcf"/>
<rect x="634.20" y="849.74" width="24.60" height="3.92" fill="#f6d4d4"/>
<rect x="634.20" y="853.36" width="24.60" height="3.92" fill="#f8d9d9"/>
<rect x="634.20" y="856.97" width="24.60" height="3.92" fill="#f8dede"/>
<rect x="634.20" y="860.59" width="24.60" height="3.92" fill="#fae3e3"/>
<rect x="634.20" y="864.21" width="24.60" height="3.92" fill="#fae8e8"/>
<rect x="634.20" y="867.83" width="24.60" height="3.92" fill="#fceded"/>
<rect x="634.20" y="871.45" width="24.60" height="3.92" fill="#fcf2f2"/>
<rect x="634.20" y="875.06" width="24.60" height="3.92" fill="#fef7f7"/>
<rect x="634.20" y="878.68" width="24.60" height="3.92" fill="#fefcfc"/>
<rect x="634.20" y="882.30" width="24.60" height="3.92" fill="#fcfcfe"/>
<rect x="634.20" y="885.92" width="24.60" height="3.92" fill="#f7f7fe"/>
<rect x="634.20" y="889.54" width="24.60" height="3.92" fill="#f2f2fc"/>
<rect x="634.20" y="893.15" width="24.60" height="3.92" fill="#ededfc"/>
<rect x="634.20" y="896.77" width="24.60" height="3.92" fill="#e8e8fa"/>
<rect x="634.20" y="900.39" width="24.60" height="3.92" fill="#e3e3fa"/>
<rect x="634.20" y="904.01" width="24.60" height="3.92" fill="#dedef8"/>
<rect x="634.20" y="907.63" width="24.60" height="3.92" fill="#d9d9f8"/>
<rect x="634.20" y="911.24" width="24.60" height="3.92" fill="#d4d4f6"/>
<rect x="634.20" y="914.86" width="24.60" height="3.92" fill="#cfcff6"/>
<rect x="634.20" y="918.48" width="24.60" height="3.92" fill="#c9c9f4"/>
<rect x="634.20" y="922.10" width="24.60" height="3.92" fill="#c4c4f4"/>
<rect x="634.20" y="925.72" width="24.60" height="3.92" fill="#bfbff2"/>
<rect x="634.20" y="929.33" width="24.60" height="3.92" fill="#babaf2"/>
<rect x="634.20" y="932.95" width="24.60" height="3.92" fill="#b5b5f0"/>
<rect x="634.20" y="936.57" width="24.60" height="3.92" fill="#b0b0f0"/>
<rect x="634.20" y="940.19" width="24.60" height="3.92" fill="#ababee"/>
<rect x="634.20" y="943.81" width="24.60" height="3.92" fill="#a6a6ee"/>
<rect x="634.20" y="947.42" width="24.60" height="3.92" fill="#a1a1ec"/>
<rect x="634.20" y="951.04" width="24.60" height="3.92" fill="#9c9cec"/>
<rect x="634.20" y="954.66" width="24.60" height="3.92" fill="#9696ea"/>
<rect x="634.20" y="958.28" width="24.60" height="3.92" fill="#9191ea"/>
<rect x="634.20" y="961.90" width="24.60" height="3.92" fill="#8c8ce8"/>
<rect x="634.20" y="965.51" width="24.60" height="3.92" fill="#8787e8"/>
<rect x="634.20" y="969.13" width="24.60" height="3.92" fill="#8282e6"/>
<rect x="634.20" y="972.75" width="24.60" height="3.92" fill="#7d7de6"/>
<rect x="634.20" y="976.37" width="24.60" height="3.92" fill="#7878e4"/>
<rect x="634.20" y="979.99" width="24.60" height="3.92" fill="#7373e4"/>
<rect x="634.20" y="983.60" width="24.60" height="3.92" fill="#6e6ee2"/>
<rect x="634.20" y="987.22" width="24.60" height="3.92" fill="#6969e2"/>
<rect x="634.20" y="990.84" width="24.60" height="3.92" fill="#6363e0"/>
<rect x="634.20" y="994.46" width="24.60" height="3.92" fill="#5e5ee0"/>
<rect x="634.20" y="998.08" width="24.60" height="3.92" fill="#5959de"/>
<rect x="634.20" y="1001.69" width="24.60" height="3.92" fill="#5454de"/>
<rect x="634.20" y="1005.31" width="24.60" height="3.92" fill="#4f4fdc"/>
<rect x="634.20" y="1008.93" width="24.60" height="3.92" fill="#4a4adc"/>
<rect x="634.20" y="1012.55" width="24.60" height="3.92" fill="#4545da"/>
<rect x="634.20" y="1016.17" width="24.60" height="3.92" fill="#4040da"/>
<rect x="634.20" y="1019.78" width="24.60" height="3.92" fill="#3b3bd8"/>
<rect x="634.20" y="1023.40" width="24.60" height="3.92" fill="#3636d8"/>
<rect x="634.20" y="1027.02" width="24.60" height="3.92" fill="#3030d6"/>
<rect x="634.20" y="1030.64" width="24.60" height="3.92" fill="#2b2bd6"/>
<rect x="634.20" y="1034.26" width="24.60" height="3.92" fill="#2626d4"/>
<rect x="634.20" y="1037.87" width="24.60" height="3.92" fill="#2121d4"/>
<rect x="634.20" y="1041.49" width="24.60" height="3.92" fill="#1c1cd2"/>
<rect x="634.20" y="1045.11" width="24.60" height="3.92" fill="#1717d2"/>
<rect x="634.20" y="1048.73" width="24.60" height="3.92" fill="#1212d0"/>
<rect x="634.20" y="1052.35" width="24.60" height="3.92" fill="#0d0dd0"/>
<rect x="634.20" y="1055.96" width="24.60" height="3.92" fill="#0808ce"/>
<rect x="634.20" y="1059.58" width="24.60" height="3.92" fill="#0303ce"/>
</g>
<line x1="634.20" y1="705.02" x2="658.80" y2="705.02" stroke="#fff" stroke-width="0.5" stroke-opacity="0.18"/>
<line x1="634.20" y1="708.64" x2="658.80" y2="708.64" stroke="#fff" stroke-width="0.5" stroke-opacity="0.18"/>
<line x1="634.20" y1="712.25" x2="658.80" y2="712.25" stroke="#fff" stroke-width="0.5" stroke-opacity="0.18"/>
<line x1="634.20" y1="715.87" x2="658.80" y2="715.87" stroke="#fff" stroke-width="0.5" stroke-opacity="0.18"/>
<line x1="634.20" y1="719.49" x2="658.80" y2="719.49" stroke="#fff" stroke-width="0.5" stroke-opacity="0.18"/>
<line x1="634.20" y1="723.11" x2="658.80" y2="723.11" stroke="#fff" stroke-width="0.5" stroke-opacity="0.18"/>
<line x1="634.20" y1="726.73" x2="658.80" y2="726.73" stroke="#fff" stroke-width="0.5" stroke-opacity="0.18"/>
<line x1="634.20" y1="730.34" x2="658.80" y2="730.34" stroke="#fff" stroke-width="0.5" stroke-opacity="0.18"/>
<line x1="634.20" y1="733.96" x2="658.80" y2="733.96" stroke="#fff" stroke-width="0.5" stroke-opacity="0.18"/>
<line x1="634.20" y1="737.58" x2="658.80" y2="737.58" stroke="#fff" stroke-width="0.5" stroke-opacity="0.18"/>
<line x1="634.20" y1="741.20" x2="658.80" y2="741.20" stroke="#fff" stroke-width="0.5" stroke-opacity="0.18"/>
<line x1="634.20" y1="744.82" x2="658.80" y2="744.82" stroke="#fff" stroke-width="0.5" stroke-opacity="0.18"/>
<line x1="634.20" y1="748.43" x2="658.80" y2="748.43" stroke="#fff" stroke-width="0.5" stroke-opacity="0.18"/>
<line x1="634.20" y1="752.05" x2="658.80" y2="752.05" stroke="#fff" stroke-width="0.5" stroke-opacity="0.18"/>
<line x1="634.20" y1="755.67" x2="658.80" y2="755.67" stroke="#fff" stroke-width="0.5" stroke-opacity="0.18"/>
<line x1="634.20" y1="759.29" x2="658.80" y2="759.29" stroke="#fff" stroke-width="0.5" stroke-opacity="0.18"/>
<line x1="634.20" y1="762.91" x2="658.80" y2="762.91" stroke="#fff" stroke-width="0.5" stroke-opacity="0.18"/>
<line x1="634.20" y1="766.52" x2="658.80" y2="766.52" stroke="#fff" stroke-width="0.5" stroke-opacity="0.18"/>
<line x1="634.20" y1="770.14" x2="658.80" y2="770.14" stroke="#fff" stroke-width="0.5" stroke-opacity="0.18"/>
<line x1="634.20" y1="773.76" x2="658.80" y2="773.76" stroke="#fff" stroke-width="0.5" stroke-opacity="0.18"/>
<line x1="634.20" y1="777.38" x2="658.80" y2="777.38" stroke="#fff" stroke-width="0.5" stroke-opacity="0.18"/>
<line x1="634.20" y1="781.00" x2="658.80" y2="781.00" stroke="#fff" stroke-width="0.5" stroke-opacity="0.18"/>
<line x1="634.20" y1="784.61" x2="658.80" y2="784.61" stroke="#fff" stroke-width="0.5" stroke-opacity="0.18"/>
<line x1="634.20" y1="788.23" x2="658.80" y2="788.23" stroke="#fff" stroke-width="0.5" stroke-opacity="0.18"/>
<line x1="634.20" y1="791.85" x2="658.80" y2="791.85" stroke="#fff" stroke-width="0.5" stroke-opacity="0.18"/>
<line x1="634.20" y1="795.47" x2="658.80" y2="795.47" stroke="#fff" stroke-width="0.5" stroke-opacity="0.18"/>
<line x1="634.20" y1="799.09" x2="658.80" y2="799.09" stroke="#fff" stroke-width="0.5" stroke-opacity="0.18"/>
<line x1="634.20" y1="802.70" x2="658.80" y2="802.70" stroke="#fff" stroke-width="0.5" stroke-opacity="0.18"/>
<line x1="634.20" y1="806.32" x2="658.80" y2="806.32" stroke="#fff" stroke-width="0.5" stroke-opacity="0.18"/>
<line x1="634.20" y1="809.94" x2="658.80" y2="809.94" stroke="#fff" stroke-width="0.5" stroke-opacity="0.18"/>
<line x1="634.20" y1="813.56" x2="658.80" y2="813.56" stroke="#fff" stroke-width="0.5" stroke-opacity="0.18"/>
<line x1="634.20" y1="817.18" x2="658.80" y2="817.18" stroke="#fff" stroke-width="0.5" stroke-opacity="0.18"/>
<line x1="634.20" y1="820.79" x2="658.80" y2="820.79" stroke="#fff" stroke-width="0.5" stroke-opacity="0.18"/>
<line x1="634.20" y1="824.41" x2="658.80" y2="824.41" stroke="#fff" stroke-width="0.5" stroke-opacity="0.18"/>
<line x1="634.20" y1="828.03" x2="658.80" y2="828.03" stroke="#fff" stroke-width="0.5" stroke-opacity="0.18"/>
<line x1="634.20" y1="831.65" x2="658.80" y2="831.65" stroke="#fff" stroke-width="0.5" stroke-opacity="0.18"/>
<line x1="634.20" y1="835.27" x2="658.80" y2="835.27" stroke="#fff" stroke-width="0.5" stroke-opacity="0.18"/>
<line x1="634.20" y1="838.88" x2="658.80" y2="838.88" stroke="#fff" stroke-width="0.5" stroke-opacity="0.18"/>
<line x1="634.20" y1="842.50" x2="658.80" y2="842.50" stroke="#fff" stroke-width="0.5" stroke-opacity="0.18"/>
<line x1="634.20" y1="846.12" x2="658.80" y2="846.12" stroke="#fff" stroke-width="0.5" stroke-opacity="0.18"/>
<line x1="634.20" y1="849.74" x2="658.80" y2="849.74" stroke="#fff" stroke-width="0.5" stroke-opacity="0.18"/>
<line x1="634.20" y1="853.36" x2="658.80" y2="853.36" stroke="#fff" stroke-width="0.5" stroke-opacity="0.18"/>
<line x1="634.20" y1="856.97" x2="658.80" y2="856.97" stroke="#fff" stroke-width="0.5" stroke-opacity="0.18"/>
<line x1="634.20" y1="860.59" x2="658.80" y2="860.59" stroke="#fff" stroke-width="0.5" stroke-opacity="0.18"/>
<line x1="634.20" y1="864.21" x2="658.80" y2="864.21" stroke="#fff" stroke-width="0.5" stroke-opacity="0.18"/>
<line x1="634.20" y1="867.83" x2="658.80" y2="867.83" stroke="#fff" stroke-width="0.5" stroke-opacity="0.18"/>
<line x1="634.20" y1="871.45" x2="658.80" y2="871.45" stroke="#fff" stroke-width="0.5" stroke-opacity="0.18"/>
<line x1="634.20" y1="875.06" x2="658.80" y2="875.06" stroke="#fff" stroke-width="0.5" stroke-opacity="0.18"/>
<line x1="634.20" y1="878.68" x2="658.80" y2="878.68" stroke="#fff" stroke-width="0.5" stroke-opacity="0.18"/>
<line x1="634.20" y1="882.30" x2="658.80" y2="882.30" stroke="#fff" stroke-width="0.5" stroke-opacity="0.18"/>
<line x1="634.20" y1="885.92" x2="658.80" y2="885.92" stroke="#fff" stroke-width="0.5" stroke-opacity="0.18"/>
<line x1="634.20" y1="889.54" x2="658.80" y2="889.54" stroke="#fff" stroke-width="0.5" stroke-opacity="0.18"/>
<line x1="634.20" y1="893.15" x2="658.80" y2="893.15" stroke="#fff" stroke-width="0.5" stroke-opacity="0.18"/>
<line x1="634.20" y1="896.77" x2="658.80" y2="896.77" stroke="#fff" stroke-width="0.5" stroke-opacity="0.18"/>
<line x1="634.20" y1="900.39" x2="658.80" y2="900.39" stroke="#fff" stroke-width="0.5" stroke-opacity="0.18"/>
<line x1="634.20" y1="904.01" x2="658.80" y2="904.01" stroke="#fff" stroke-width="0.5" stroke-opacity="0.18"/>
<line x1="634.20" y1="907.63" x2="658.80" y2="907.63" stroke="#fff" stroke-width="0.5" stroke-opacity="0.18"/>
<line x1="634.20" y1="911.24" x2="658.80" y2="911.24" stroke="#fff" stroke-width="0.5" stroke-opacity="0.18"/>
<line x1="634.20" y1="914.86" x2="658.80" y2="914.86" stroke="#fff" stroke-width="0.5" stroke-opacity="0.18"/>
<line x1="634.20" y1="918.48" x2="658.80" y2="918.48" stroke="#fff" stroke-width="0.5" stroke-opacity="0.18"/>
<line x1="634.20" y1="922.10" x2="658.80" y2="922.10" stroke="#fff" stroke-width="0.5" stroke-opacity="0.18"/>
<line x1="634.20" y1="925.72" x2="658.80" y2="925.72" stroke="#fff" stroke-width="0.5" stroke-opacity="0.18"/>
<line x1="634.20" y1="929.33" x2="658.80" y2="929.33" stroke="#fff" stroke-width="0.5" stroke-opacity="0.18"/>
<line x1="634.20" y1="932.95" x2="658.80" y2="932.95" stroke="#fff" stroke-width="0.5" stroke-opacity="0.18"/>
<line x1="634.20" y1="936.57" x2="658.80" y2="936.57" stroke="#fff" stroke-width="0.5" stroke-opacity="0.18"/>
<line x1="634.20" y1="940.19" x2="658.80" y2="940.19" stroke="#fff" stroke-width="0.5" stroke-opacity="0.18"/>
<line x1="634.20" y1="943.81" x2="658.80" y2="943.81" stroke="#fff" stroke-width="0.5" stroke-opacity="0.18"/>
<line x1="634.20" y1="947.42" x2="658.80" y2="947.42" stroke="#fff" stroke-width="0.5" stroke-opacity="0.18"/>
<line x1="634.20" y1="951.04" x2="658.80" y2="951.04" stroke="#fff" stroke-width="0.5" stroke-opacity="0.18"/>
<line x1="634.20" y1="954.66" x2="658.80" y2="954.66" stroke="#fff" stroke-width="0.5" stroke-opacity="0.18"/>
<line x1="634.20" y1="958.28" x2="658.80" y2="958.28" stroke="#fff" stroke-width="0.5" stroke-opacity="0.18"/>
<line x1="634.20" y1="961.90" x2="658.80" y2="961.90" stroke="#fff" stroke-width="0.5" stroke-opacity="0.18"/>
<line x1="634.20" y1="965.51" x2="658.80" y2="965.51" stroke="#fff" stroke-width="0.5" stroke-opacity="0.18"/>
<line x1="634.20" y1="969.13" x2="658.80" y2="969.13" stroke="#fff" stroke-width="0.5" stroke-opacity="0.18"/>
<line x1="634.20" y1="972.75" x2="658.80" y2="972.75" stroke="#fff" stroke-width="0.5" stroke-opacity="0.18"/>
<line x1="634.20" y1="976.37" x2="658.80" y2="976.37" stroke="#fff" stroke-width="0.5" stroke-opacity="0.18"/>
<line x1="634.20" y1="979.99" x2="658.80" y2="979.99" stroke="#fff" stroke-width="0.5" stroke-opacity="0.18"/>
<line x1="634.20" y1="983.60" x2="658.80" y2="983.60" stroke="#fff" stroke-width="0.5" stroke-opacity="0.18"/>
<line x1="634.20" y1="987.22" x2="658.80" y2="987.22" stroke="#fff" stroke-width="0.5" stroke-opacity="0.18"/>
<line x1="634.20" y1="990.84" x2="658.80" y2="990.84" stroke="#fff" stroke-width="0.5" stroke-opacity="0.18"/>
<line x1="634.20" y1="994.46" x2="658.80" y2="994.46" stroke="#fff" stroke-width="0.5" stroke-opacity="0.18"/>
<line x1="634.20" y1="998.08" x2="658.80" y2="998.08" stroke="#fff" stroke-width="0.5" stroke-opacity="0.18"/>
<line x1="634.20" y1="1001.69" x2="658.80" y2="1001.69" stroke="#fff" stroke-width="0.5" stroke-opacity="0.18"/>
<line x1="634.20" y1="1005.31" x2="658.80" y2="1005.31" stroke="#fff" stroke-width="0.5" stroke-opacity="0.18"/>
<line x1="634.20" y1="1008.93" x2="658.80" y2="1008.93" stroke="#fff" stroke-width="0.5" stroke-opacity="0.18"/>
<line x1="634.20" y1="1012.55" x2="658.80" y2="1012.55" stroke="#fff" stroke-width="0.5" stroke-opacity="0.18"/>
<line x1="634.20" y1="1016.17" x2="658.80" y2="1016.17" stroke="#fff" stroke-width="0.5" stroke-opacity="0.18"/>
<line x1="634.20" y1="1019.78" x2="658.80" y2="1019.78" stroke="#fff" stroke-width="0.5" stroke-opacity="0.18"/>
<line x1="634.20" y1="1023.40" x2="658.80" y2="1023.40" stroke="#fff" stroke-width="0.5" stroke-opacity="0.18"/>
<line x1="634.20" y1="1027.02" x2="658.80" y2="1027.02" stroke="#fff" stroke-width="0.5" stroke-opacity="0.18"/>
<line x1="634.20" y1="1030.64" x2="658.80" y2="1030.64" stroke="#fff" stroke-width="0.5" stroke-opacity="0.18"/>
<line x1="634.20" y1="1034.26" x2="658.80" y2="1034.26" stroke="#fff" stroke-width="0.5" stroke-opacity="0.18"/>
<line x1="634.20" y1="1037.87" x2="658.80" y2="1037.87" stroke="#fff" stroke-width="0.5" stroke-opacity="0.18"/>
<line x1="634.20" y1="1041.49" x2="658.80" y2="1041.49" stroke="#fff" stroke-width="0.5" stroke-opacity="0.18"/>
<line x1="634.20" y1="1045.11" x2="658.80" y2="1045.11" stroke="#fff" stroke-width="0.5" stroke-opacity="0.18"/>
<line x1="634.20" y1="1048.73" x2="658.80" y2="1048.73" stroke="#fff" stroke-width="0.5" stroke-opacity="0.18"/>
<line x1="634.20" y1="1052.35" x2="658.80" y2="1052.35" stroke="#fff" stroke-width="0.5" stroke-opacity="0.18"/>
<line x1="634.20" y1="1055.96" x2="658.80" y2="1055.96" stroke="#fff" stroke-width="0.5" stroke-opacity="0.18"/>
<line x1="634.20" y1="1059.58" x2="658.80" y2="1059.58" stroke="#fff" stroke-width="0.5" stroke-opacity="0.18"/>
<text x="668.4" y="763.8" font-size="19.0" stroke="#000" stroke-width="0.3">4</text>
<text x="668.4" y="835.5" font-size="19.0" stroke="#000" stroke-width="0.3">2</text>
<text x="668.4" y="907.1" font-size="19.0" stroke="#000" stroke-width="0.3">0</text>
<text x="668.4" y="978.8" font-size="19.0" stroke="#000" stroke-width="0.3">−2</text>
<text x="668.4" y="1050.4" font-size="19.0" stroke="#000" stroke-width="0.3">−4</text>
<text x="809.2" y="1063.0" font-size="35" stroke="#000" stroke-width="0.3">E</text>
<text x="884.0" y="1076.2" font-size="26.6" font-weight="bold">Top DAM−DEGs against CTRL</text>
<g id="panelE">
<rect x="884.00" y="1090.00" width="216.00" height="21.20" fill="#A2CD5A"/>
<rect x="1100.00" y="1090.00" width="144.00" height="21.20" fill="#9932CC"/>
<g shape-rendering="crispEdges">
<rect x="884.00" y="1119.50" width="72.30" height="21.02" fill="#f4c7c7"/>
<rect x="956.00" y="1119.50" width="72.30" height="21.02" fill="#f2bfbf"/>
<rect x="1028.00" y="1119.50" width="72.30" height="21.02" fill="#f2baba"/>
<rect x="1100.00" y="1119.50" width="72.30" height="21.02" fill="#dd5252"/>
<rect x="1172.00" y="1119.50" width="72.00" height="21.02" fill="#de5757"/>
<rect x="884.00" y="1140.22" width="72.30" height="21.02" fill="#f0b2b2"/>
<rect x="956.00" y="1140.22" width="72.30" height="21.02" fill="#eeabab"/>
<rect x="1028.00" y="1140.22" width="72.30" height="21.02" fill="#ec9e9e"/>
<rect x="1100.00" y="1140.22" width="72.30" height="21.02" fill="#e06161"/>
<rect x="1172.00" y="1140.22" width="72.00" height="21.02" fill="#e16666"/>
<rect x="884.00" y="1160.94" width="72.30" height="21.02" fill="#f0b2b2"/>
<rect x="956.00" y="1160.94" width="72.30" height="21.02" fill="#eea6a6"/>
<rect x="1028.00" y="1160.94" width="72.30" height="21.02" fill="#ea9494"/>
<rect x="1100.00" y="1160.94" width="72.30" height="21.02" fill="#da4242"/>
<rect x="1172.00" y="1160.94" width="72.00" height="21.02" fill="#dc4d4d"/>
<rect x="884.00" y="1181.66" width="72.30" height="21.02" fill="#eea6a6"/>
<rect x="956.00" y="1181.66" width="72.30" height="21.02" fill="#eb9999"/>
<rect x="1028.00" y="1181.66" width="72.30" height="21.02" fill="#ea9494"/>
<rect x="1100.00" y="1181.66" width="72.30" height="21.02" fill="#da4242"/>
<rect x="1172.00" y="1181.66" width="72.00" height="21.02" fill="#dd5252"/>
<rect x="884.00" y="1202.38" width="72.30" height="21.02" fill="#f8dede"/>
<rect x="956.00" y="1202.38" width="72.30" height="21.02" fill="#f9e0e0"/>
<rect x="1028.00" y="1202.38" width="72.30" height="21.02" fill="#f9e0e0"/>
<rect x="1100.00" y="1202.38" width="72.30" height="21.02" fill="#de5757"/>
<rect x="1172.00" y="1202.38" width="72.00" height="21.02" fill="#e26b6b"/>
<rect x="884.00" y="1223.10" width="72.30" height="21.02" fill="#fbebeb"/>
<rect x="956.00" y="1223.10" width="72.30" height="21.02" fill="#f9e0e0"/>
<rect x="1028.00" y="1223.10" width="72.30" height="21.02" fill="#f6d4d4"/>
<rect x="1100.00" y="1223.10" width="72.30" height="21.02" fill="#d73333"/>
<rect x="1172.00" y="1223.10" width="72.00" height="21.02" fill="#dd5252"/>
<rect x="884.00" y="1243.82" width="72.30" height="21.02" fill="#fae6e6"/>
<rect x="956.00" y="1243.82" width="72.30" height="21.02" fill="#f6d4d4"/>
<rect x="1028.00" y="1243.82" width="72.30" height="21.02" fill="#f2bfbf"/>
<rect x="1100.00" y="1243.82" width="72.30" height="21.02" fill="#d93d3d"/>
<rect x="1172.00" y="1243.82" width="72.00" height="21.02" fill="#d83838"/>
<rect x="884.00" y="1264.54" width="72.30" height="21.02" fill="#ea9494"/>
<rect x="956.00" y="1264.54" width="72.30" height="21.02" fill="#ea9494"/>
<rect x="1028.00" y="1264.54" width="72.30" height="21.02" fill="#ec9e9e"/>
<rect x="1100.00" y="1264.54" width="72.30" height="21.02" fill="#f0b2b2"/>
<rect x="1172.00" y="1264.54" width="72.00" height="21.02" fill="#f2baba"/>
<rect x="884.00" y="1285.26" width="72.30" height="21.02" fill="#efadad"/>
<rect x="956.00" y="1285.26" width="72.30" height="21.02" fill="#eea6a6"/>
<rect x="1028.00" y="1285.26" width="72.30" height="21.02" fill="#ea9494"/>
<rect x="1100.00" y="1285.26" width="72.30" height="21.02" fill="#ec9e9e"/>
<rect x="1172.00" y="1285.26" width="72.00" height="21.02" fill="#eeabab"/>
<rect x="884.00" y="1305.98" width="72.30" height="21.02" fill="#eda3a3"/>
<rect x="956.00" y="1305.98" width="72.30" height="21.02" fill="#ec9e9e"/>
<rect x="1028.00" y="1305.98" width="72.30" height="21.02" fill="#ea9494"/>
<rect x="1100.00" y="1305.98" width="72.30" height="21.02" fill="#ea9494"/>
<rect x="1172.00" y="1305.98" width="72.00" height="21.02" fill="#ec9e9e"/>
<rect x="884.00" y="1326.70" width="72.30" height="21.02" fill="#f8dede"/>
<rect x="956.00" y="1326.70" width="72.30" height="21.02" fill="#f8d9d9"/>
<rect x="1028.00" y="1326.70" width="72.30" height="21.02" fill="#f5cccc"/>
<rect x="1100.00" y="1326.70" width="72.30" height="21.02" fill="#e57a7a"/>
<rect x="1172.00" y="1326.70" width="72.00" height="21.02" fill="#e68080"/>
<rect x="884.00" y="1347.42" width="72.30" height="21.02" fill="#f5cccc"/>
<rect x="956.00" y="1347.42" width="72.30" height="21.02" fill="#f4c7c7"/>
<rect x="1028.00" y="1347.42" width="72.30" height="21.02" fill="#f4c7c7"/>
<rect x="1100.00" y="1347.42" width="72.30" height="21.02" fill="#ea9494"/>
<rect x="1172.00" y="1347.42" width="72.00" height="21.02" fill="#ec9e9e"/>
<rect x="884.00" y="1368.14" width="72.30" height="21.02" fill="#f8dede"/>
<rect x="956.00" y="1368.14" width="72.30" height="21.02" fill="#f6d4d4"/>
<rect x="1028.00" y="1368.14" width="72.30" height="21.02" fill="#f4c7c7"/>
<rect x="1100.00" y="1368.14" width="72.30" height="21.02" fill="#e88a8a"/>
<rect x="1172.00" y="1368.14" width="72.00" height="21.02" fill="#eb9999"/>
<rect x="884.00" y="1388.86" width="72.30" height="21.02" fill="#fefafa"/>
<rect x="956.00" y="1388.86" width="72.30" height="21.02" fill="#fdf5f5"/>
<rect x="1028.00" y="1388.86" width="72.30" height="21.02" fill="#fbebeb"/>
<rect x="1100.00" y="1388.86" width="72.30" height="21.02" fill="#e88c8c"/>
<rect x="1172.00" y="1388.86" width="72.00" height="21.02" fill="#ec9e9e"/>
<rect x="884.00" y="1409.58" width="72.30" height="21.02" fill="#fceded"/>
<rect x="956.00" y="1409.58" width="72.30" height="21.02" fill="#fbebeb"/>
<rect x="1028.00" y="1409.58" width="72.30" height="21.02" fill="#fae6e6"/>
<rect x="1100.00" y="1409.58" width="72.30" height="21.02" fill="#ea9494"/>
<rect x="1172.00" y="1409.58" width="72.00" height="21.02" fill="#ea9494"/>
<rect x="884.00" y="1430.30" width="72.30" height="21.02" fill="#fae6e6"/>
<rect x="956.00" y="1430.30" width="72.30" height="21.02" fill="#fae6e6"/>
<rect x="1028.00" y="1430.30" width="72.30" height="21.02" fill="#f9e0e0"/>
<rect x="1100.00" y="1430.30" width="72.30" height="21.02" fill="#ec9e9e"/>
<rect x="1172.00" y="1430.30" width="72.00" height="21.02" fill="#eb9999"/>
<rect x="884.00" y="1451.02" width="72.30" height="21.02" fill="#fbebeb"/>
<rect x="956.00" y="1451.02" width="72.30" height="21.02" fill="#f8dede"/>
<rect x="1028.00" y="1451.02" width="72.30" height="21.02" fill="#f8d9d9"/>
<rect x="1100.00" y="1451.02" width="72.30" height="21.02" fill="#eda3a3"/>
<rect x="1172.00" y="1451.02" width="72.00" height="21.02" fill="#ec9e9e"/>
<rect x="884.00" y="1471.74" width="72.30" height="21.02" fill="#da4040"/>
<rect x="956.00" y="1471.74" width="72.30" height="21.02" fill="#db4747"/>
<rect x="1028.00" y="1471.74" width="72.30" height="21.02" fill="#dd5252"/>
<rect x="1100.00" y="1471.74" width="72.30" height="21.02" fill="#f2f2fc"/>
<rect x="1172.00" y="1471.74" width="72.00" height="21.02" fill="#fafafe"/>
<rect x="884.00" y="1492.46" width="72.30" height="21.02" fill="#e78585"/>
<rect x="956.00" y="1492.46" width="72.30" height="21.02" fill="#e57a7a"/>
<rect x="1028.00" y="1492.46" width="72.30" height="21.02" fill="#e78585"/>
<rect x="1100.00" y="1492.46" width="72.30" height="21.02" fill="#fbebeb"/>
<rect x="1172.00" y="1492.46" width="72.00" height="21.02" fill="#fbebeb"/>
<rect x="884.00" y="1513.18" width="72.30" height="21.02" fill="#e78585"/>
<rect x="956.00" y="1513.18" width="72.30" height="21.02" fill="#e88a8a"/>
<rect x="1028.00" y="1513.18" width="72.30" height="21.02" fill="#e68080"/>
<rect x="1100.00" y="1513.18" width="72.30" height="21.02" fill="#f9e0e0"/>
<rect x="1172.00" y="1513.18" width="72.00" height="21.02" fill="#fceded"/>
<rect x="884.00" y="1533.90" width="72.30" height="21.02" fill="#d00d0d"/>
<rect x="956.00" y="1533.90" width="72.30" height="21.02" fill="#cd0000"/>
<rect x="1028.00" y="1533.90" width="72.30" height="21.02" fill="#cd0000"/>
<rect x="1100.00" y="1533.90" width="72.30" height="21.02" fill="#de5959"/>
<rect x="1172.00" y="1533.90" width="72.00" height="21.02" fill="#de5959"/>
<rect x="884.00" y="1554.62" width="72.30" height="21.02" fill="#d11414"/>
<rect x="956.00" y="1554.62" width="72.30" height="21.02" fill="#d00d0d"/>
<rect x="1028.00" y="1554.62" width="72.30" height="21.02" fill="#d01212"/>
<rect x="1100.00" y="1554.62" width="72.30" height="21.02" fill="#d62e2e"/>
<rect x="1172.00" y="1554.62" width="72.00" height="21.02" fill="#d73333"/>
<rect x="884.00" y="1575.34" width="72.30" height="21.02" fill="#e06161"/>
<rect x="956.00" y="1575.34" width="72.30" height="21.02" fill="#dd5252"/>
<rect x="1028.00" y="1575.34" width="72.30" height="21.02" fill="#db4747"/>
<rect x="1100.00" y="1575.34" width="72.30" height="21.02" fill="#d62e2e"/>
<rect x="1172.00" y="1575.34" width="72.00" height="21.02" fill="#d83838"/>
<rect x="884.00" y="1596.06" width="72.30" height="21.02" fill="#ea9494"/>
<rect x="956.00" y="1596.06" width="72.30" height="21.02" fill="#e88c8c"/>
<rect x="1028.00" y="1596.06" width="72.30" height="21.02" fill="#e88a8a"/>
<rect x="1100.00" y="1596.06" width="72.30" height="21.02" fill="#e57a7a"/>
<rect x="1172.00" y="1596.06" width="72.00" height="21.02" fill="#e78585"/>
<rect x="884.00" y="1616.78" width="72.30" height="21.02" fill="#e88a8a"/>
<rect x="956.00" y="1616.78" width="72.30" height="21.02" fill="#e68080"/>
<rect x="1028.00" y="1616.78" width="72.30" height="21.02" fill="#e68080"/>
<rect x="1100.00" y="1616.78" width="72.30" height="21.02" fill="#de5959"/>
<rect x="1172.00" y="1616.78" width="72.00" height="21.02" fill="#de5959"/>
<rect x="884.00" y="1637.50" width="72.30" height="21.02" fill="#e57a7a"/>
<rect x="956.00" y="1637.50" width="72.30" height="21.02" fill="#e47373"/>
<rect x="1028.00" y="1637.50" width="72.30" height="21.02" fill="#e26b6b"/>
<rect x="1100.00" y="1637.50" width="72.30" height="21.02" fill="#db4747"/>
<rect x="1172.00" y="1637.50" width="72.00" height="21.02" fill="#dc4d4d"/>
<rect x="884.00" y="1658.22" width="72.30" height="21.02" fill="#1414d1"/>
<rect x="956.00" y="1658.22" width="72.30" height="21.02" fill="#0000cd"/>
<rect x="1028.00" y="1658.22" width="72.30" height="21.02" fill="#1919d2"/>
<rect x="1100.00" y="1658.22" width="72.30" height="21.02" fill="#0505ce"/>
<rect x="1172.00" y="1658.22" width="72.00" height="21.02" fill="#0d0dd0"/>
<rect x="884.00" y="1678.94" width="72.30" height="21.02" fill="#4040da"/>
<rect x="956.00" y="1678.94" width="72.30" height="21.02" fill="#5959de"/>
<rect x="1028.00" y="1678.94" width="72.30" height="21.02" fill="#5959de"/>
<rect x="1100.00" y="1678.94" width="72.30" height="21.02" fill="#2626d4"/>
<rect x="1172.00" y="1678.94" width="72.00" height="21.02" fill="#2626d4"/>
<rect x="884.00" y="1699.66" width="72.30" height="21.02" fill="#4747db"/>
<rect x="956.00" y="1699.66" width="72.30" height="21.02" fill="#5252dd"/>
<rect x="1028.00" y="1699.66" width="72.30" height="21.02" fill="#5757de"/>
<rect x="1100.00" y="1699.66" width="72.30" height="21.02" fill="#3333d7"/>
<rect x="1172.00" y="1699.66" width="72.00" height="21.02" fill="#2e2ed6"/>
<rect x="884.00" y="1720.38" width="72.30" height="21.02" fill="#a1a1ec"/>
<rect x="956.00" y="1720.38" width="72.30" height="21.02" fill="#ababee"/>
<rect x="1028.00" y="1720.38" width="72.30" height="21.02" fill="#c4c4f4"/>
<rect x="1100.00" y="1720.38" width="72.30" height="21.02" fill="#7a7ae5"/>
<rect x="1172.00" y="1720.38" width="72.00" height="21.02" fill="#8080e6"/>
<rect x="884.00" y="1741.10" width="72.30" height="21.02" fill="#8c8ce8"/>
<rect x="956.00" y="1741.10" width="72.30" height="21.02" fill="#8c8ce8"/>
<rect x="1028.00" y="1741.10" width="72.30" height="21.02" fill="#a1a1ec"/>
<rect x="1100.00" y="1741.10" width="72.30" height="21.02" fill="#8080e6"/>
<rect x="1172.00" y="1741.10" width="72.00" height="21.02" fill="#7a7ae5"/>
<rect x="884.00" y="1761.82" width="72.30" height="21.02" fill="#9494ea"/>
<rect x="956.00" y="1761.82" width="72.30" height="21.02" fill="#9999eb"/>
<rect x="1028.00" y="1761.82" width="72.30" height="21.02" fill="#b2b2f0"/>
<rect x="1100.00" y="1761.82" width="72.30" height="21.02" fill="#6b6be2"/>
<rect x="1172.00" y="1761.82" width="72.00" height="21.02" fill="#6b6be2"/>
<rect x="884.00" y="1782.54" width="72.30" height="21.02" fill="#9999eb"/>
<rect x="956.00" y="1782.54" width="72.30" height="21.02" fill="#9999eb"/>
<rect x="1028.00" y="1782.54" width="72.30" height="21.02" fill="#ababee"/>
<rect x="1100.00" y="1782.54" width="72.30" height="21.02" fill="#6666e1"/>
<rect x="1172.00" y="1782.54" width="72.00" height="21.02" fill="#6666e1"/>
<rect x="884.00" y="1803.26" width="72.30" height="21.02" fill="#d9d9f8"/>
<rect x="956.00" y="1803.26" width="72.30" height="21.02" fill="#d6d6f7"/>
<rect x="1028.00" y="1803.26" width="72.30" height="21.02" fill="#d9d9f8"/>
<rect x="1100.00" y="1803.26" width="72.30" height="21.02" fill="#9999eb"/>
<rect x="1172.00" y="1803.26" width="72.00" height="21.02" fill="#9e9eec"/>
<rect x="884.00" y="1823.98" width="72.30" height="21.02" fill="#ccccf5"/>
<rect x="956.00" y="1823.98" width="72.30" height="21.02" fill="#d1d1f6"/>
<rect x="1028.00" y="1823.98" width="72.30" height="21.02" fill="#ebebfb"/>
<rect x="1100.00" y="1823.98" width="72.30" height="21.02" fill="#6b6be2"/>
<rect x="1172.00" y="1823.98" width="72.00" height="21.02" fill="#7070e3"/>
<rect x="884.00" y="1844.70" width="72.30" height="21.02" fill="#7373e4"/>
<rect x="956.00" y="1844.70" width="72.30" height="21.02" fill="#6b6be2"/>
<rect x="1028.00" y="1844.70" width="72.30" height="21.02" fill="#6e6ee2"/>
<rect x="1100.00" y="1844.70" width="72.30" height="21.02" fill="#f8dede"/>
<rect x="1172.00" y="1844.70" width="72.00" height="21.02" fill="#fae6e6"/>
<rect x="884.00" y="1865.42" width="72.30" height="21.02" fill="#9e9eec"/>
<rect x="956.00" y="1865.42" width="72.30" height="21.02" fill="#9e9eec"/>
<rect x="1028.00" y="1865.42" width="72.30" height="21.02" fill="#a1a1ec"/>
<rect x="1100.00" y="1865.42" width="72.30" height="21.02" fill="#f5cccc"/>
<rect x="1172.00" y="1865.42" width="72.00" height="21.02" fill="#f6d4d4"/>
<rect x="884.00" y="1886.14" width="72.30" height="21.02" fill="#ababee"/>
<rect x="956.00" y="1886.14" width="72.30" height="21.02" fill="#a1a1ec"/>
<rect x="1028.00" y="1886.14" width="72.30" height="21.02" fill="#9999eb"/>
<rect x="1100.00" y="1886.14" width="72.30" height="21.02" fill="#fefafa"/>
<rect x="1172.00" y="1886.14" width="72.00" height="21.02" fill="#ffffff"/>
<rect x="884.00" y="1906.86" width="72.30" height="21.02" fill="#9494ea"/>
<rect x="956.00" y="1906.86" width="72.30" height="21.02" fill="#9494ea"/>
<rect x="1028.00" y="1906.86" width="72.30" height="21.02" fill="#9494ea"/>
<rect x="1100.00" y="1906.86" width="72.30" height="21.02" fill="#fefafa"/>
<rect x="1172.00" y="1906.86" width="72.00" height="21.02" fill="#ffffff"/>
<rect x="884.00" y="1927.58" width="72.30" height="21.02" fill="#8c8ce8"/>
<rect x="956.00" y="1927.58" width="72.30" height="21.02" fill="#8a8ae8"/>
<rect x="1028.00" y="1927.58" width="72.30" height="21.02" fill="#9191ea"/>
<rect x="1100.00" y="1927.58" width="72.30" height="21.02" fill="#fceded"/>
<rect x="1172.00" y="1927.58" width="72.00" height="21.02" fill="#ffffff"/>
<rect x="884.00" y="1948.30" width="72.30" height="21.02" fill="#4747db"/>
<rect x="956.00" y="1948.30" width="72.30" height="21.02" fill="#3d3dd9"/>
<rect x="1028.00" y="1948.30" width="72.30" height="21.02" fill="#5252dd"/>
<rect x="1100.00" y="1948.30" width="72.30" height="21.02" fill="#dedef8"/>
<rect x="1172.00" y="1948.30" width="72.00" height="21.02" fill="#dedef8"/>
<rect x="884.00" y="1969.02" width="72.30" height="21.02" fill="#9494ea"/>
<rect x="956.00" y="1969.02" width="72.30" height="21.02" fill="#9999eb"/>
<rect x="1028.00" y="1969.02" width="72.30" height="21.02" fill="#a1a1ec"/>
<rect x="1100.00" y="1969.02" width="72.30" height="21.02" fill="#9e9eec"/>
<rect x="1172.00" y="1969.02" width="72.00" height="21.02" fill="#a1a1ec"/>
<rect x="884.00" y="1989.74" width="72.30" height="21.02" fill="#9494ea"/>
<rect x="956.00" y="1989.74" width="72.30" height="21.02" fill="#a1a1ec"/>
<rect x="1028.00" y="1989.74" width="72.30" height="21.02" fill="#a3a3ed"/>
<rect x="1100.00" y="1989.74" width="72.30" height="21.02" fill="#a6a6ee"/>
<rect x="1172.00" y="1989.74" width="72.00" height="21.02" fill="#9999eb"/>
<rect x="884.00" y="2010.46" width="72.30" height="21.02" fill="#9494ea"/>
<rect x="956.00" y="2010.46" width="72.30" height="21.02" fill="#9e9eec"/>
<rect x="1028.00" y="2010.46" width="72.30" height="21.02" fill="#a3a3ed"/>
<rect x="1100.00" y="2010.46" width="72.30" height="21.02" fill="#b8b8f1"/>
<rect x="1172.00" y="2010.46" width="72.00" height="21.02" fill="#bfbff2"/>
<rect x="884.00" y="2031.18" width="72.30" height="21.02" fill="#8a8ae8"/>
<rect x="956.00" y="2031.18" width="72.30" height="21.02" fill="#9494ea"/>
<rect x="1028.00" y="2031.18" width="72.30" height="21.02" fill="#9494ea"/>
<rect x="1100.00" y="2031.18" width="72.30" height="21.02" fill="#c7c7f4"/>
<rect x="1172.00" y="2031.18" width="72.00" height="21.02" fill="#ccccf5"/>
<rect x="884.00" y="2051.90" width="72.30" height="21.02" fill="#9191ea"/>
<rect x="956.00" y="2051.90" width="72.30" height="21.02" fill="#9999eb"/>
<rect x="1028.00" y="2051.90" width="72.30" height="21.02" fill="#a3a3ed"/>
<rect x="1100.00" y="2051.90" width="72.30" height="21.02" fill="#ccccf5"/>
<rect x="1172.00" y="2051.90" width="72.00" height="21.02" fill="#bfbff2"/>
<rect x="884.00" y="2072.62" width="72.30" height="21.02" fill="#6161e0"/>
<rect x="956.00" y="2072.62" width="72.30" height="21.02" fill="#6161e0"/>
<rect x="1028.00" y="2072.62" width="72.30" height="21.02" fill="#4d4ddc"/>
<rect x="1100.00" y="2072.62" width="72.30" height="21.02" fill="#7a7ae5"/>
<rect x="1172.00" y="2072.62" width="72.00" height="21.02" fill="#8080e6"/>
<rect x="884.00" y="2093.34" width="72.30" height="21.02" fill="#6666e1"/>
<rect x="956.00" y="2093.34" width="72.30" height="21.02" fill="#7373e4"/>
<rect x="1028.00" y="2093.34" width="72.30" height="21.02" fill="#7a7ae5"/>
<rect x="1100.00" y="2093.34" width="72.30" height="21.02" fill="#9e9eec"/>
<rect x="1172.00" y="2093.34" width="72.00" height="21.02" fill="#9e9eec"/>
<rect x="884.00" y="2114.06" width="72.30" height="20.72" fill="#7a7ae5"/>
<rect x="956.00" y="2114.06" width="72.30" height="20.72" fill="#8080e6"/>
<rect x="1028.00" y="2114.06" width="72.30" height="20.72" fill="#8080e6"/>
<rect x="1100.00" y="2114.06" width="72.30" height="20.72" fill="#7a7ae5"/>
<rect x="1172.00" y="2114.06" width="72.00" height="20.72" fill="#8080e6"/>
</g>
<line x1="956.00" y1="1090.00" x2="956.00" y2="1111.20" stroke="#fff" stroke-width="0.8" stroke-opacity="0.22"/>
<line x1="956.00" y1="1119.50" x2="956.00" y2="2134.78" stroke="#fff" stroke-width="0.8" stroke-opacity="0.22"/>
<line x1="1028.00" y1="1090.00" x2="1028.00" y2="1111.20" stroke="#fff" stroke-width="0.8" stroke-opacity="0.22"/>
<line x1="1028.00" y1="1119.50" x2="1028.00" y2="2134.78" stroke="#fff" stroke-width="0.8" stroke-opacity="0.22"/>
<line x1="1100.00" y1="1090.00" x2="1100.00" y2="1111.20" stroke="#fff" stroke-width="0.8" stroke-opacity="0.22"/>
<line x1="1100.00" y1="1119.50" x2="1100.00" y2="2134.78" stroke="#fff" stroke-width="0.8" stroke-opacity="0.22"/>
<line x1="1172.00" y1="1090.00" x2="1172.00" y2="1111.20" stroke="#fff" stroke-width="0.8" stroke-opacity="0.22"/>
<line x1="1172.00" y1="1119.50" x2="1172.00" y2="2134.78" stroke="#fff" stroke-width="0.8" stroke-opacity="0.22"/>
<line x1="884.00" y1="1140.22" x2="1244.00" y2="1140.22" stroke="#fff" stroke-width="0.6" stroke-opacity="0.12"/>
<line x1="884.00" y1="1160.94" x2="1244.00" y2="1160.94" stroke="#fff" stroke-width="0.6" stroke-opacity="0.12"/>
<line x1="884.00" y1="1181.66" x2="1244.00" y2="1181.66" stroke="#fff" stroke-width="0.6" stroke-opacity="0.12"/>
<line x1="884.00" y1="1202.38" x2="1244.00" y2="1202.38" stroke="#fff" stroke-width="0.6" stroke-opacity="0.12"/>
<line x1="884.00" y1="1223.10" x2="1244.00" y2="1223.10" stroke="#fff" stroke-width="0.6" stroke-opacity="0.12"/>
<line x1="884.00" y1="1243.82" x2="1244.00" y2="1243.82" stroke="#fff" stroke-width="0.6" stroke-opacity="0.12"/>
<line x1="884.00" y1="1264.54" x2="1244.00" y2="1264.54" stroke="#fff" stroke-width="0.6" stroke-opacity="0.12"/>
<line x1="884.00" y1="1285.26" x2="1244.00" y2="1285.26" stroke="#fff" stroke-width="0.6" stroke-opacity="0.12"/>
<line x1="884.00" y1="1305.98" x2="1244.00" y2="1305.98" stroke="#fff" stroke-width="0.6" stroke-opacity="0.12"/>
<line x1="884.00" y1="1326.70" x2="1244.00" y2="1326.70" stroke="#fff" stroke-width="0.6" stroke-opacity="0.12"/>
<line x1="884.00" y1="1347.42" x2="1244.00" y2="1347.42" stroke="#fff" stroke-width="0.6" stroke-opacity="0.12"/>
<line x1="884.00" y1="1368.14" x2="1244.00" y2="1368.14" stroke="#fff" stroke-width="0.6" stroke-opacity="0.12"/>
<line x1="884.00" y1="1388.86" x2="1244.00" y2="1388.86" stroke="#fff" stroke-width="0.6" stroke-opacity="0.12"/>
<line x1="884.00" y1="1409.58" x2="1244.00" y2="1409.58" stroke="#fff" stroke-width="0.6" stroke-opacity="0.12"/>
<line x1="884.00" y1="1430.30" x2="1244.00" y2="1430.30" stroke="#fff" stroke-width="0.6" stroke-opacity="0.12"/>
<line x1="884.00" y1="1451.02" x2="1244.00" y2="1451.02" stroke="#fff" stroke-width="0.6" stroke-opacity="0.12"/>
<line x1="884.00" y1="1471.74" x2="1244.00" y2="1471.74" stroke="#fff" stroke-width="0.6" stroke-opacity="0.12"/>
<line x1="884.00" y1="1492.46" x2="1244.00" y2="1492.46" stroke="#fff" stroke-width="0.6" stroke-opacity="0.12"/>
<line x1="884.00" y1="1513.18" x2="1244.00" y2="1513.18" stroke="#fff" stroke-width="0.6" stroke-opacity="0.12"/>
<line x1="884.00" y1="1533.90" x2="1244.00" y2="1533.90" stroke="#fff" stroke-width="0.6" stroke-opacity="0.12"/>
<line x1="884.00" y1="1554.62" x2="1244.00" y2="1554.62" stroke="#fff" stroke-width="0.6" stroke-opacity="0.12"/>
<line x1="884.00" y1="1575.34" x2="1244.00" y2="1575.34" stroke="#fff" stroke-width="0.6" stroke-opacity="0.12"/>
<line x1="884.00" y1="1596.06" x2="1244.00" y2="1596.06" stroke="#fff" stroke-width="0.6" stroke-opacity="0.12"/>
<line x1="884.00" y1="1616.78" x2="1244.00" y2="1616.78" stroke="#fff" stroke-width="0.6" stroke-opacity="0.12"/>
<line x1="884.00" y1="1637.50" x2="1244.00" y2="1637.50" stroke="#fff" stroke-width="0.6" stroke-opacity="0.12"/>
<line x1="884.00" y1="1658.22" x2="1244.00" y2="1658.22" stroke="#fff" stroke-width="0.6" stroke-opacity="0.12"/>
<line x1="884.00" y1="1678.94" x2="1244.00" y2="1678.94" stroke="#fff" stroke-width="0.6" stroke-opacity="0.12"/>
<line x1="884.00" y1="1699.66" x2="1244.00" y2="1699.66" stroke="#fff" stroke-width="0.6" stroke-opacity="0.12"/>
<line x1="884.00" y1="1720.38" x2="1244.00" y2="1720.38" stroke="#fff" stroke-width="0.6" stroke-opacity="0.12"/>
<line x1="884.00" y1="1741.10" x2="1244.00" y2="1741.10" stroke="#fff" stroke-width="0.6" stroke-opacity="0.12"/>
<line x1="884.00" y1="1761.82" x2="1244.00" y2="1761.82" stroke="#fff" stroke-width="0.6" stroke-opacity="0.12"/>
<line x1="884.00" y1="1782.54" x2="1244.00" y2="1782.54" stroke="#fff" stroke-width="0.6" stroke-opacity="0.12"/>
<line x1="884.00" y1="1803.26" x2="1244.00" y2="1803.26" stroke="#fff" stroke-width="0.6" stroke-opacity="0.12"/>
<line x1="884.00" y1="1823.98" x2="1244.00" y2="1823.98" stroke="#fff" stroke-width="0.6" stroke-opacity="0.12"/>
<line x1="884.00" y1="1844.70" x2="1244.00" y2="1844.70" stroke="#fff" stroke-width="0.6" stroke-opacity="0.12"/>
<line x1="884.00" y1="1865.42" x2="1244.00" y2="1865.42" stroke="#fff" stroke-width="0.6" stroke-opacity="0.12"/>
<line x1="884.00" y1="1886.14" x2="1244.00" y2="1886.14" stroke="#fff" stroke-width="0.6" stroke-opacity="0.12"/>
<line x1="884.00" y1="1906.86" x2="1244.00" y2="1906.86" stroke="#fff" stroke-width="0.6" stroke-opacity="0.12"/>
<line x1="884.00" y1="1927.58" x2="1244.00" y2="1927.58" stroke="#fff" stroke-width="0.6" stroke-opacity="0.12"/>
<line x1="884.00" y1="1948.30" x2="1244.00" y2="1948.30" stroke="#fff" stroke-width="0.6" stroke-opacity="0.12"/>
<line x1="884.00" y1="1969.02" x2="1244.00" y2="1969.02" stroke="#fff" stroke-width="0.6" stroke-opacity="0.12"/>
<line x1="884.00" y1="1989.74" x2="1244.00" y2="1989.74" stroke="#fff" stroke-width="0.6" stroke-opacity="0.12"/>
<line x1="884.00" y1="2010.46" x2="1244.00" y2="2010.46" stroke="#fff" stroke-width="0.6" stroke-opacity="0.12"/>
<line x1="884.00" y1="2031.18" x2="1244.00" y2="2031.18" stroke="#fff" stroke-width="0.6" stroke-opacity="0.12"/>
<line x1="884.00" y1="2051.90" x2="1244.00" y2="2051.90" stroke="#fff" stroke-width="0.6" stroke-opacity="0.12"/>
<line x1="884.00" y1="2072.62" x2="1244.00" y2="2072.62" stroke="#fff" stroke-width="0.6" stroke-opacity="0.12"/>
<line x1="884.00" y1="2093.34" x2="1244.00" y2="2093.34" stroke="#fff" stroke-width="0.6" stroke-opacity="0.12"/>
<line x1="884.00" y1="2114.06" x2="1244.00" y2="2114.06" stroke="#fff" stroke-width="0.6" stroke-opacity="0.12"/>
<g font-size="23.8" stroke="#000" stroke-width="0.3">
<text x="1255.7" y="1137.7">PSME2</text>
<text x="1255.7" y="1158.4">TYMP</text>
<text x="1255.7" y="1179.1">PTGER4</text>
<text x="1255.7" y="1199.8">BCL2A1</text>
<text x="1255.7" y="1220.5">PPA1</text>
<text x="1255.7" y="1241.3">TXN</text>
<text x="1255.7" y="1262.0">TNFAIP2</text>
<text x="1255.7" y="1282.7">HIF1A</text>
<text x="1255.7" y="1303.4">CPM</text>
<text x="1255.7" y="1324.1">PLAUR</text>
<text x="1255.7" y="1344.9">LAP3</text>
<text x="1255.7" y="1365.6">SRI</text>
<text x="1255.7" y="1386.3">BTG1</text>
<text x="1255.7" y="1407.0">CDKN1A</text>
<text x="1255.7" y="1427.7">KLF6</text>
<text x="1255.7" y="1448.5">PDGFA</text>
<text x="1255.7" y="1469.2">ZFP36</text>
<text x="1255.7" y="1489.9">SLC11A1</text>
<text x="1255.7" y="1510.6">CD163</text>
<text x="1255.7" y="1531.3">OLR1</text>
<text x="1255.7" y="1552.1">S100A9</text>
<text x="1255.7" y="1572.8">NAMPT</text>
<text x="1255.7" y="1593.5">ACSL1</text>
<text x="1255.7" y="1614.2">CD44</text>
<text x="1255.7" y="1634.9">FCGR1A</text>
<text x="1255.7" y="1655.7">GK</text>
<text x="1255.7" y="1676.4">KCNJ5</text>
<text x="1255.7" y="1697.1">LRRC39</text>
<text x="1255.7" y="1717.8">DHRS9</text>
<text x="1255.7" y="1738.5">TREM2</text>
<text x="1255.7" y="1759.3">GPNMB</text>
<text x="1255.7" y="1780.0">FABP3</text>
<text x="1255.7" y="1800.7">CD9</text>
<text x="1255.7" y="1821.4">FAM20C</text>
<text x="1255.7" y="1842.1">LPL</text>
<text x="1255.7" y="1862.9">HLA−DQB1</text>
<text x="1255.7" y="1883.6">HLA−DPA1</text>
<text x="1255.7" y="1904.3">HLA−DRB5</text>
<text x="1255.7" y="1925.0">HLA−DRB1</text>
<text x="1255.7" y="1945.7">HLA−DPB1</text>
<text x="1255.7" y="1966.5">HLA−DMA</text>
<text x="1255.7" y="1987.2">ABCC5</text>
<text x="1255.7" y="2007.9">BLVRB</text>
<text x="1255.7" y="2028.6">AMDHD2</text>
<text x="1255.7" y="2049.3">KCNMA1</text>
<text x="1255.7" y="2070.1">LGMN</text>
<text x="1255.7" y="2090.8">IPCEF1</text>
<text x="1255.7" y="2111.5">RNASE1</text>
<text x="1255.7" y="2132.2">CEBPA</text>
</g>
<text x="1255.7" y="1107.9" font-size="21.2" stroke="#000" stroke-width="0.3">condition</text>
<text x="921.2" y="2156.0" font-size="21.2" text-anchor="middle" stroke="#000" stroke-width="0.3">4</text>
<text x="991.2" y="2156.0" font-size="21.2" text-anchor="middle" stroke="#000" stroke-width="0.3">5</text>
<text x="1063.6" y="2156.0" font-size="21.2" text-anchor="middle" stroke="#000" stroke-width="0.3">6</text>
<text x="1136.4" y="2156.0" font-size="21.2" text-anchor="middle" stroke="#000" stroke-width="0.3">7</text>
<text x="1209.6" y="2156.0" font-size="21.2" text-anchor="middle" stroke="#000" stroke-width="0.3">8</text>
<text x="1255.7" y="2156.0" font-size="21.2" stroke="#000" stroke-width="0.3">sample ID</text>
<path d="M884.0 1171.3H881.6V1192.0H884.0M884.0 1150.6H878.8V1181.7H881.6M884.0 1129.9H877.0V1166.1H878.8M884.0 1233.5H879.6V1254.2H884.0M884.0 1212.7H876.6V1243.8H879.6M877.0 1148.0H870.3V1228.3H876.6M884.0 1295.6H880.8V1316.3H884.0M884.0 1274.9H878.6V1306.0H880.8M884.0 1357.8H880.3V1378.5H884.0M884.0 1337.1H878.6V1368.1H880.3M884.0 1440.7H881.3V1461.4H884.0M884.0 1419.9H879.6V1451.0H881.3M884.0 1399.2H877.8V1435.5H879.6M878.6 1352.6H874.0V1417.3H877.8M878.6 1290.4H863.9V1385.0H874.0M870.3 1188.1H859.6V1337.7H863.9M884.0 1502.8H880.6V1523.5H884.0M884.0 1482.1H868.6V1513.2H880.6M884.0 1544.3H874.3V1565.0H884.0M884.0 1627.1H880.0V1647.9H884.0M884.0 1606.4H873.6V1637.5H880.0M884.0 1585.7H865.8V1622.0H873.6M874.3 1554.6H852.0V1603.8H865.8M868.6 1497.6H840.0V1579.2H852.0M859.6 1262.9H828.2V1538.4H840.0M884.0 1689.3H880.9V1710.0H884.0M884.0 1668.6H865.8V1699.7H880.9M884.0 1772.2H881.4V1792.9H884.0M884.0 1751.5H878.8V1782.5H881.4M884.0 1730.7H877.4V1767.0H878.8M884.0 1813.6H873.9V1834.3H884.0M877.4 1748.9H868.2V1824.0H873.9M884.0 1917.2H880.9V1937.9H884.0M884.0 1896.5H878.3V1927.6H880.9M884.0 1875.8H875.1V1912.0H878.3M884.0 1855.1H869.9V1893.9H875.1M884.0 1979.4H880.9V2000.1H884.0M884.0 2041.5H881.4V2062.3H884.0M884.0 2020.8H878.8V2051.9H881.4M880.9 1989.7H875.4V2036.4H878.8M884.0 2103.7H874.2V2124.4H884.0M884.0 2083.0H873.4V2114.1H874.2M875.4 2013.1H863.0V2098.5H873.4M884.0 1958.7H859.8V2055.8H863.0M869.9 1874.5H845.0V2007.2H859.8M868.2 1786.4H841.9V1940.9H845.0M865.8 1684.1H818.2V1863.6H841.9M828.2 1400.7H743.6V1773.9H818.2" fill="none" stroke="#000" stroke-width="1.6" stroke-linejoin="miter" stroke-linecap="square"/>
</g>
<text x="1379.4" y="1102.0" font-size="21.1" stroke="#000" stroke-width="0.3">condition</text>
<rect x="1379.00" y="1109.40" width="30.30" height="30.10" fill="#A2CD5A"/>
<rect x="1379.00" y="1141.50" width="30.30" height="30.30" fill="#9932CC"/>
<text x="1416.4" y="1131.4" font-size="26.7" stroke="#000" stroke-width="0.3">LPS</text>
<text x="1416.4" y="1163.2" font-size="26.7" stroke="#000" stroke-width="0.3">LPS/IFNy</text>
<g shape-rendering="crispEdges">
<rect x="1379.30" y="1212.00" width="26.80" height="4.30" fill="#ce0303"/>
<rect x="1379.30" y="1216.01" width="26.80" height="4.30" fill="#ce0808"/>
<rect x="1379.30" y="1220.01" width="26.80" height="4.30" fill="#d00d0d"/>
<rect x="1379.30" y="1224.02" width="26.80" height="4.30" fill="#d01212"/>
<rect x="1379.30" y="1228.02" width="26.80" height="4.30" fill="#d21717"/>
<rect x="1379.30" y="1232.03" width="26.80" height="4.30" fill="#d21c1c"/>
<rect x="1379.30" y="1236.03" width="26.80" height="4.30" fill="#d42121"/>
<rect x="1379.30" y="1240.04" width="26.80" height="4.30" fill="#d42626"/>
<rect x="1379.30" y="1244.04" width="26.80" height="4.30" fill="#d62b2b"/>
<rect x="1379.30" y="1248.05" width="26.80" height="4.30" fill="#d63030"/>
<rect x="1379.30" y="1252.05" width="26.80" height="4.30" fill="#d83636"/>
<rect x="1379.30" y="1256.06" width="26.80" height="4.30" fill="#d83b3b"/>
<rect x="1379.30" y="1260.06" width="26.80" height="4.30" fill="#da4040"/>
<rect x="1379.30" y="1264.07" width="26.80" height="4.30" fill="#da4545"/>
<rect x="1379.30" y="1268.07" width="26.80" height="4.30" fill="#dc4a4a"/>
<rect x="1379.30" y="1272.08" width="26.80" height="4.30" fill="#dc4f4f"/>
<rect x="1379.30" y="1276.08" width="26.80" height="4.30" fill="#de5454"/>
<rect x="1379.30" y="1280.09" width="26.80" height="4.30" fill="#de5959"/>
<rect x="1379.30" y="1284.09" width="26.80" height="4.30" fill="#e05e5e"/>
<rect x="1379.30" y="1288.10" width="26.80" height="4.30" fill="#e06363"/>
<rect x="1379.30" y="1292.10" width="26.80" height="4.30" fill="#e26969"/>
<rect x="1379.30" y="1296.11" width="26.80" height="4.30" fill="#e26e6e"/>
<rect x="1379.30" y="1300.11" width="26.80" height="4.30" fill="#e47373"/>
<rect x="1379.30" y="1304.12" width="26.80" height="4.30" fill="#e47878"/>
<rect x="1379.30" y="1308.12" width="26.80" height="4.30" fill="#e67d7d"/>
<rect x="1379.30" y="1312.12" width="26.80" height="4.30" fill="#e68282"/>
<rect x="1379.30" y="1316.13" width="26.80" height="4.30" fill="#e88787"/>
<rect x="1379.30" y="1320.13" width="26.80" height="4.30" fill="#e88c8c"/>
<rect x="1379.30" y="1324.14" width="26.80" height="4.30" fill="#ea9191"/>
<rect x="1379.30" y="1328.14" width="26.80" height="4.30" fill="#ea9696"/>
<rect x="1379.30" y="1332.15" width="26.80" height="4.30" fill="#ec9c9c"/>
<rect x="1379.30" y="1336.15" width="26.80" height="4.30" fill="#eca1a1"/>
<rect x="1379.30" y="1340.16" width="26.80" height="4.30" fill="#eea6a6"/>
<rect x="1379.30" y="1344.16" width="26.80" height="4.30" fill="#eeabab"/>
<rect x="1379.30" y="1348.17" width="26.80" height="4.30" fill="#f0b0b0"/>
<rect x="1379.30" y="1352.17" width="26.80" height="4.30" fill="#f0b5b5"/>
<rect x="1379.30" y="1356.18" width="26.80" height="4.30" fill="#f2baba"/>
<rect x="1379.30" y="1360.18" width="26.80" height="4.30" fill="#f2bfbf"/>
<rect x="1379.30" y="1364.19" width="26.80" height="4.30" fill="#f4c4c4"/>
<rect x="1379.30" y="1368.19" width="26.80" height="4.30" fill="#f4c9c9"/>
<rect x="1379.30" y="1372.20" width="26.80" height="4.30" fill="#f6cfcf"/>
<rect x="1379.30" y="1376.20" width="26.80" height="4.30" fill="#f6d4d4"/>
<rect x="1379.30" y="1380.21" width="26.80" height="4.30" fill="#f8d9d9"/>
<rect x="1379.30" y="1384.21" width="26.80" height="4.30" fill="#f8dede"/>
<rect x="1379.30" y="1388.22" width="26.80" height="4.30" fill="#fae3e3"/>
<rect x="1379.30" y="1392.22" width="26.80" height="4.30" fill="#fae8e8"/>
<rect x="1379.30" y="1396.23" width="26.80" height="4.30" fill="#fceded"/>
<rect x="1379.30" y="1400.23" width="26.80" height="4.30" fill="#fcf2f2"/>
<rect x="1379.30" y="1404.24" width="26.80" height="4.30" fill="#fef7f7"/>
<rect x="1379.30" y="1408.24" width="26.80" height="4.30" fill="#fefcfc"/>
<rect x="1379.30" y="1412.25" width="26.80" height="4.30" fill="#fcfcfe"/>
<rect x="1379.30" y="1416.26" width="26.80" height="4.30" fill="#f7f7fe"/>
<rect x="1379.30" y="1420.26" width="26.80" height="4.30" fill="#f2f2fc"/>
<rect x="1379.30" y="1424.26" width="26.80" height="4.30" fill="#ededfc"/>
<rect x="1379.30" y="1428.27" width="26.80" height="4.30" fill="#e8e8fa"/>
<rect x="1379.30" y="1432.28" width="26.80" height="4.30" fill="#e3e3fa"/>
<rect x="1379.30" y="1436.28" width="26.80" height="4.30" fill="#dedef8"/>
<rect x="1379.30" y="1440.29" width="26.80" height="4.30" fill="#d9d9f8"/>
<rect x="1379.30" y="1444.29" width="26.80" height="4.30" fill="#d4d4f6"/>
<rect x="1379.30" y="1448.30" width="26.80" height="4.30" fill="#cfcff6"/>
<rect x="1379.30" y="1452.30" width="26.80" height="4.30" fill="#c9c9f4"/>
<rect x="1379.30" y="1456.31" width="26.80" height="4.30" fill="#c4c4f4"/>
<rect x="1379.30" y="1460.31" width="26.80" height="4.30" fill="#bfbff2"/>
<rect x="1379.30" y="1464.32" width="26.80" height="4.30" fill="#babaf2"/>
<rect x="1379.30" y="1468.32" width="26.80" height="4.30" fill="#b5b5f0"/>
<rect x="1379.30" y="1472.33" width="26.80" height="4.30" fill="#b0b0f0"/>
<rect x="1379.30" y="1476.33" width="26.80" height="4.30" fill="#ababee"/>
<rect x="1379.30" y="1480.34" width="26.80" height="4.30" fill="#a6a6ee"/>
<rect x="1379.30" y="1484.34" width="26.80" height="4.30" fill="#a1a1ec"/>
<rect x="1379.30" y="1488.35" width="26.80" height="4.30" fill="#9c9cec"/>
<rect x="1379.30" y="1492.35" width="26.80" height="4.30" fill="#9696ea"/>
<rect x="1379.30" y="1496.36" width="26.80" height="4.30" fill="#9191ea"/>
<rect x="1379.30" y="1500.36" width="26.80" height="4.30" fill="#8c8ce8"/>
<rect x="1379.30" y="1504.37" width="26.80" height="4.30" fill="#8787e8"/>
<rect x="1379.30" y="1508.37" width="26.80" height="4.30" fill="#8282e6"/>
<rect x="1379.30" y="1512.38" width="26.80" height="4.30" fill="#7d7de6"/>
<rect x="1379.30" y="1516.38" width="26.80" height="4.30" fill="#7878e4"/>
<rect x="1379.30" y="1520.38" width="26.80" height="4.30" fill="#7373e4"/>
<rect x="1379.30" y="1524.39" width="26.80" height="4.30" fill="#6e6ee2"/>
<rect x="1379.30" y="1528.39" width="26.80" height="4.30" fill="#6969e2"/>
<rect x="1379.30" y="1532.40" width="26.80" height="4.30" fill="#6363e0"/>
<rect x="1379.30" y="1536.40" width="26.80" height="4.30" fill="#5e5ee0"/>
<rect x="1379.30" y="1540.41" width="26.80" height="4.30" fill="#5959de"/>
<rect x="1379.30" y="1544.41" width="26.80" height="4.30" fill="#5454de"/>
<rect x="1379.30" y="1548.42" width="26.80" height="4.30" fill="#4f4fdc"/>
<rect x="1379.30" y="1552.42" width="26.80" height="4.30" fill="#4a4adc"/>
<rect x="1379.30" y="1556.43" width="26.80" height="4.30" fill="#4545da"/>
<rect x="1379.30" y="1560.43" width="26.80" height="4.30" fill="#4040da"/>
<rect x="1379.30" y="1564.44" width="26.80" height="4.30" fill="#3b3bd8"/>
<rect x="1379.30" y="1568.44" width="26.80" height="4.30" fill="#3636d8"/>
<rect x="1379.30" y="1572.45" width="26.80" height="4.30" fill="#3030d6"/>
<rect x="1379.30" y="1576.45" width="26.80" height="4.30" fill="#2b2bd6"/>
<rect x="1379.30" y="1580.46" width="26.80" height="4.30" fill="#2626d4"/>
<rect x="1379.30" y="1584.46" width="26.80" height="4.30" fill="#2121d4"/>
<rect x="1379.30" y="1588.47" width="26.80" height="4.30" fill="#1c1cd2"/>
<rect x="1379.30" y="1592.47" width="26.80" height="4.30" fill="#1717d2"/>
<rect x="1379.30" y="1596.48" width="26.80" height="4.30" fill="#1212d0"/>
<rect x="1379.30" y="1600.49" width="26.80" height="4.30" fill="#0d0dd0"/>
<rect x="1379.30" y="1604.49" width="26.80" height="4.30" fill="#0808ce"/>
<rect x="1379.30" y="1608.49" width="26.80" height="4.30" fill="#0303ce"/>
</g>
<line x1="1379.30" y1="1216.01" x2="1406.10" y2="1216.01" stroke="#fff" stroke-width="0.5" stroke-opacity="0.18"/>
<line x1="1379.30" y1="1220.01" x2="1406.10" y2="1220.01" stroke="#fff" stroke-width="0.5" stroke-opacity="0.18"/>
<line x1="1379.30" y1="1224.02" x2="1406.10" y2="1224.02" stroke="#fff" stroke-width="0.5" stroke-opacity="0.18"/>
<line x1="1379.30" y1="1228.02" x2="1406.10" y2="1228.02" stroke="#fff" stroke-width="0.5" stroke-opacity="0.18"/>
<line x1="1379.30" y1="1232.03" x2="1406.10" y2="1232.03" stroke="#fff" stroke-width="0.5" stroke-opacity="0.18"/>
<line x1="1379.30" y1="1236.03" x2="1406.10" y2="1236.03" stroke="#fff" stroke-width="0.5" stroke-opacity="0.18"/>
<line x1="1379.30" y1="1240.04" x2="1406.10" y2="1240.04" stroke="#fff" stroke-width="0.5" stroke-opacity="0.18"/>
<line x1="1379.30" y1="1244.04" x2="1406.10" y2="1244.04" stroke="#fff" stroke-width="0.5" stroke-opacity="0.18"/>
<line x1="1379.30" y1="1248.05" x2="1406.10" y2="1248.05" stroke="#fff" stroke-width="0.5" stroke-opacity="0.18"/>
<line x1="1379.30" y1="1252.05" x2="1406.10" y2="1252.05" stroke="#fff" stroke-width="0.5" stroke-opacity="0.18"/>
<line x1="1379.30" y1="1256.06" x2="1406.10" y2="1256.06" stroke="#fff" stroke-width="0.5" stroke-opacity="0.18"/>
<line x1="1379.30" y1="1260.06" x2="1406.10" y2="1260.06" stroke="#fff" stroke-width="0.5" stroke-opacity="0.18"/>
<line x1="1379.30" y1="1264.07" x2="1406.10" y2="1264.07" stroke="#fff" stroke-width="0.5" stroke-opacity="0.18"/>
<line x1="1379.30" y1="1268.07" x2="1406.10" y2="1268.07" stroke="#fff" stroke-width="0.5" stroke-opacity="0.18"/>
<line x1="1379.30" y1="1272.08" x2="1406.10" y2="1272.08" stroke="#fff" stroke-width="0.5" stroke-opacity="0.18"/>
<line x1="1379.30" y1="1276.08" x2="1406.10" y2="1276.08" stroke="#fff" stroke-width="0.5" stroke-opacity="0.18"/>
<line x1="1379.30" y1="1280.09" x2="1406.10" y2="1280.09" stroke="#fff" stroke-width="0.5" stroke-opacity="0.18"/>
<line x1="1379.30" y1="1284.09" x2="1406.10" y2="1284.09" stroke="#fff" stroke-width="0.5" stroke-opacity="0.18"/>
<line x1="1379.30" y1="1288.10" x2="1406.10" y2="1288.10" stroke="#fff" stroke-width="0.5" stroke-opacity="0.18"/>
<line x1="1379.30" y1="1292.10" x2="1406.10" y2="1292.10" stroke="#fff" stroke-width="0.5" stroke-opacity="0.18"/>
<line x1="1379.30" y1="1296.11" x2="1406.10" y2="1296.11" stroke="#fff" stroke-width="0.5" stroke-opacity="0.18"/>
<line x1="1379.30" y1="1300.11" x2="1406.10" y2="1300.11" stroke="#fff" stroke-width="0.5" stroke-opacity="0.18"/>
<line x1="1379.30" y1="1304.12" x2="1406.10" y2="1304.12" stroke="#fff" stroke-width="0.5" stroke-opacity="0.18"/>
<line x1="1379.30" y1="1308.12" x2="1406.10" y2="1308.12" stroke="#fff" stroke-width="0.5" stroke-opacity="0.18"/>
<line x1="1379.30" y1="1312.12" x2="1406.10" y2="1312.12" stroke="#fff" stroke-width="0.5" stroke-opacity="0.18"/>
<line x1="1379.30" y1="1316.13" x2="1406.10" y2="1316.13" stroke="#fff" stroke-width="0.5" stroke-opacity="0.18"/>
<line x1="1379.30" y1="1320.13" x2="1406.10" y2="1320.13" stroke="#fff" stroke-width="0.5" stroke-opacity="0.18"/>
<line x1="1379.30" y1="1324.14" x2="1406.10" y2="1324.14" stroke="#fff" stroke-width="0.5" stroke-opacity="0.18"/>
<line x1="1379.30" y1="1328.14" x2="1406.10" y2="1328.14" stroke="#fff" stroke-width="0.5" stroke-opacity="0.18"/>
<line x1="1379.30" y1="1332.15" x2="1406.10" y2="1332.15" stroke="#fff" stroke-width="0.5" stroke-opacity="0.18"/>
<line x1="1379.30" y1="1336.15" x2="1406.10" y2="1336.15" stroke="#fff" stroke-width="0.5" stroke-opacity="0.18"/>
<line x1="1379.30" y1="1340.16" x2="1406.10" y2="1340.16" stroke="#fff" stroke-width="0.5" stroke-opacity="0.18"/>
<line x1="1379.30" y1="1344.16" x2="1406.10" y2="1344.16" stroke="#fff" stroke-width="0.5" stroke-opacity="0.18"/>
<line x1="1379.30" y1="1348.17" x2="1406.10" y2="1348.17" stroke="#fff" stroke-width="0.5" stroke-opacity="0.18"/>
<line x1="1379.30" y1="1352.17" x2="1406.10" y2="1352.17" stroke="#fff" stroke-width="0.5" stroke-opacity="0.18"/>
<line x1="1379.30" y1="1356.18" x2="1406.10" y2="1356.18" stroke="#fff" stroke-width="0.5" stroke-opacity="0.18"/>
<line x1="1379.30" y1="1360.18" x2="1406.10" y2="1360.18" stroke="#fff" stroke-width="0.5" stroke-opacity="0.18"/>
<line x1="1379.30" y1="1364.19" x2="1406.10" y2="1364.19" stroke="#fff" stroke-width="0.5" stroke-opacity="0.18"/>
<line x1="1379.30" y1="1368.19" x2="1406.10" y2="1368.19" stroke="#fff" stroke-width="0.5" stroke-opacity="0.18"/>
<line x1="1379.30" y1="1372.20" x2="1406.10" y2="1372.20" stroke="#fff" stroke-width="0.5" stroke-opacity="0.18"/>
<line x1="1379.30" y1="1376.20" x2="1406.10" y2="1376.20" stroke="#fff" stroke-width="0.5" stroke-opacity="0.18"/>
<line x1="1379.30" y1="1380.21" x2="1406.10" y2="1380.21" stroke="#fff" stroke-width="0.5" stroke-opacity="0.18"/>
<line x1="1379.30" y1="1384.21" x2="1406.10" y2="1384.21" stroke="#fff" stroke-width="0.5" stroke-opacity="0.18"/>
<line x1="1379.30" y1="1388.22" x2="1406.10" y2="1388.22" stroke="#fff" stroke-width="0.5" stroke-opacity="0.18"/>
<line x1="1379.30" y1="1392.22" x2="1406.10" y2="1392.22" stroke="#fff" stroke-width="0.5" stroke-opacity="0.18"/>
<line x1="1379.30" y1="1396.23" x2="1406.10" y2="1396.23" stroke="#fff" stroke-width="0.5" stroke-opacity="0.18"/>
<line x1="1379.30" y1="1400.23" x2="1406.10" y2="1400.23" stroke="#fff" stroke-width="0.5" stroke-opacity="0.18"/>
<line x1="1379.30" y1="1404.24" x2="1406.10" y2="1404.24" stroke="#fff" stroke-width="0.5" stroke-opacity="0.18"/>
<line x1="1379.30" y1="1408.24" x2="1406.10" y2="1408.24" stroke="#fff" stroke-width="0.5" stroke-opacity="0.18"/>
<line x1="1379.30" y1="1412.25" x2="1406.10" y2="1412.25" stroke="#fff" stroke-width="0.5" stroke-opacity="0.18"/>
<line x1="1379.30" y1="1416.26" x2="1406.10" y2="1416.26" stroke="#fff" stroke-width="0.5" stroke-opacity="0.18"/>
<line x1="1379.30" y1="1420.26" x2="1406.10" y2="1420.26" stroke="#fff" stroke-width="0.5" stroke-opacity="0.18"/>
<line x1="1379.30" y1="1424.26" x2="1406.10" y2="1424.26" stroke="#fff" stroke-width="0.5" stroke-opacity="0.18"/>
<line x1="1379.30" y1="1428.27" x2="1406.10" y2="1428.27" stroke="#fff" stroke-width="0.5" stroke-opacity="0.18"/>
<line x1="1379.30" y1="1432.28" x2="1406.10" y2="1432.28" stroke="#fff" stroke-width="0.5" stroke-opacity="0.18"/>
<line x1="1379.30" y1="1436.28" x2="1406.10" y2="1436.28" stroke="#fff" stroke-width="0.5" stroke-opacity="0.18"/>
<line x1="1379.30" y1="1440.29" x2="1406.10" y2="1440.29" stroke="#fff" stroke-width="0.5" stroke-opacity="0.18"/>
<line x1="1379.30" y1="1444.29" x2="1406.10" y2="1444.29" stroke="#fff" stroke-width="0.5" stroke-opacity="0.18"/>
<line x1="1379.30" y1="1448.30" x2="1406.10" y2="1448.30" stroke="#fff" stroke-width="0.5" stroke-opacity="0.18"/>
<line x1="1379.30" y1="1452.30" x2="1406.10" y2="1452.30" stroke="#fff" stroke-width="0.5" stroke-opacity="0.18"/>
<line x1="1379.30" y1="1456.31" x2="1406.10" y2="1456.31" stroke="#fff" stroke-width="0.5" stroke-opacity="0.18"/>
<line x1="1379.30" y1="1460.31" x2="1406.10" y2="1460.31" stroke="#fff" stroke-width="0.5" stroke-opacity="0.18"/>
<line x1="1379.30" y1="1464.32" x2="1406.10" y2="1464.32" stroke="#fff" stroke-width="0.5" stroke-opacity="0.18"/>
<line x1="1379.30" y1="1468.32" x2="1406.10" y2="1468.32" stroke="#fff" stroke-width="0.5" stroke-opacity="0.18"/>
<line x1="1379.30" y1="1472.33" x2="1406.10" y2="1472.33" stroke="#fff" stroke-width="0.5" stroke-opacity="0.18"/>
<line x1="1379.30" y1="1476.33" x2="1406.10" y2="1476.33" stroke="#fff" stroke-width="0.5" stroke-opacity="0.18"/>
<line x1="1379.30" y1="1480.34" x2="1406.10" y2="1480.34" stroke="#fff" stroke-width="0.5" stroke-opacity="0.18"/>
<line x1="1379.30" y1="1484.34" x2="1406.10" y2="1484.34" stroke="#fff" stroke-width="0.5" stroke-opacity="0.18"/>
<line x1="1379.30" y1="1488.35" x2="1406.10" y2="1488.35" stroke="#fff" stroke-width="0.5" stroke-opacity="0.18"/>
<line x1="1379.30" y1="1492.35" x2="1406.10" y2="1492.35" stroke="#fff" stroke-width="0.5" stroke-opacity="0.18"/>
<line x1="1379.30" y1="1496.36" x2="1406.10" y2="1496.36" stroke="#fff" stroke-width="0.5" stroke-opacity="0.18"/>
<line x1="1379.30" y1="1500.36" x2="1406.10" y2="1500.36" stroke="#fff" stroke-width="0.5" stroke-opacity="0.18"/>
<line x1="1379.30" y1="1504.37" x2="1406.10" y2="1504.37" stroke="#fff" stroke-width="0.5" stroke-opacity="0.18"/>
<line x1="1379.30" y1="1508.37" x2="1406.10" y2="1508.37" stroke="#fff" stroke-width="0.5" stroke-opacity="0.18"/>
<line x1="1379.30" y1="1512.38" x2="1406.10" y2="1512.38" stroke="#fff" stroke-width="0.5" stroke-opacity="0.18"/>
<line x1="1379.30" y1="1516.38" x2="1406.10" y2="1516.38" stroke="#fff" stroke-width="0.5" stroke-opacity="0.18"/>
<line x1="1379.30" y1="1520.38" x2="1406.10" y2="1520.38" stroke="#fff" stroke-width="0.5" stroke-opacity="0.18"/>
<line x1="1379.30" y1="1524.39" x2="1406.10" y2="1524.39" stroke="#fff" stroke-width="0.5" stroke-opacity="0.18"/>
<line x1="1379.30" y1="1528.39" x2="1406.10" y2="1528.39" stroke="#fff" stroke-width="0.5" stroke-opacity="0.18"/>
<line x1="1379.30" y1="1532.40" x2="1406.10" y2="1532.40" stroke="#fff" stroke-width="0.5" stroke-opacity="0.18"/>
<line x1="1379.30" y1="1536.40" x2="1406.10" y2="1536.40" stroke="#fff" stroke-width="0.5" stroke-opacity="0.18"/>
<line x1="1379.30" y1="1540.41" x2="1406.10" y2="1540.41" stroke="#fff" stroke-width="0.5" stroke-opacity="0.18"/>
<line x1="1379.30" y1="1544.41" x2="1406.10" y2="1544.41" stroke="#fff" stroke-width="0.5" stroke-opacity="0.18"/>
<line x1="1379.30" y1="1548.42" x2="1406.10" y2="1548.42" stroke="#fff" stroke-width="0.5" stroke-opacity="0.18"/>
<line x1="1379.30" y1="1552.42" x2="1406.10" y2="1552.42" stroke="#fff" stroke-width="0.5" stroke-opacity="0.18"/>
<line x1="1379.30" y1="1556.43" x2="1406.10" y2="1556.43" stroke="#fff" stroke-width="0.5" stroke-opacity="0.18"/>
<line x1="1379.30" y1="1560.43" x2="1406.10" y2="1560.43" stroke="#fff" stroke-width="0.5" stroke-opacity="0.18"/>
<line x1="1379.30" y1="1564.44" x2="1406.10" y2="1564.44" stroke="#fff" stroke-width="0.5" stroke-opacity="0.18"/>
<line x1="1379.30" y1="1568.44" x2="1406.10" y2="1568.44" stroke="#fff" stroke-width="0.5" stroke-opacity="0.18"/>
<line x1="1379.30" y1="1572.45" x2="1406.10" y2="1572.45" stroke="#fff" stroke-width="0.5" stroke-opacity="0.18"/>
<line x1="1379.30" y1="1576.45" x2="1406.10" y2="1576.45" stroke="#fff" stroke-width="0.5" stroke-opacity="0.18"/>
<line x1="1379.30" y1="1580.46" x2="1406.10" y2="1580.46" stroke="#fff" stroke-width="0.5" stroke-opacity="0.18"/>
<line x1="1379.30" y1="1584.46" x2="1406.10" y2="1584.46" stroke="#fff" stroke-width="0.5" stroke-opacity="0.18"/>
<line x1="1379.30" y1="1588.47" x2="1406.10" y2="1588.47" stroke="#fff" stroke-width="0.5" stroke-opacity="0.18"/>
<line x1="1379.30" y1="1592.47" x2="1406.10" y2="1592.47" stroke="#fff" stroke-width="0.5" stroke-opacity="0.18"/>
<line x1="1379.30" y1="1596.48" x2="1406.10" y2="1596.48" stroke="#fff" stroke-width="0.5" stroke-opacity="0.18"/>
<line x1="1379.30" y1="1600.49" x2="1406.10" y2="1600.49" stroke="#fff" stroke-width="0.5" stroke-opacity="0.18"/>
<line x1="1379.30" y1="1604.49" x2="1406.10" y2="1604.49" stroke="#fff" stroke-width="0.5" stroke-opacity="0.18"/>
<line x1="1379.30" y1="1608.49" x2="1406.10" y2="1608.49" stroke="#fff" stroke-width="0.5" stroke-opacity="0.18"/>
<text x="1416.6" y="1320.3" font-size="20.3" stroke="#000" stroke-width="0.3">2</text>
<text x="1416.6" y="1421.2" font-size="20.3" stroke="#000" stroke-width="0.3">0</text>
<text x="1416.6" y="1523.0" font-size="20.3" stroke="#000" stroke-width="0.3">−2</text>
<g id="panelF">
<text x="25.0" y="1662.2" font-size="35" stroke="#000" stroke-width="0.3">F</text>
<text x="103.2" y="1662.2" font-size="25.8" font-weight="bold">LPS/IFNy vs. LPS (DAM)</text>
<line x1="317.80" y1="1753.70" x2="317.80" y2="2026.90" stroke="#efefef" stroke-width="1.5"/>
<line x1="497.80" y1="1753.70" x2="497.80" y2="2026.90" stroke="#efefef" stroke-width="1.5"/>
<line x1="137.40" y1="1975.83" x2="678.30" y2="1975.83" stroke="#efefef" stroke-width="1.5"/>
<line x1="137.40" y1="1898.90" x2="678.30" y2="1898.90" stroke="#efefef" stroke-width="1.5"/>
<line x1="137.40" y1="1821.96" x2="678.30" y2="1821.96" stroke="#efefef" stroke-width="1.5"/>
<line x1="227.80" y1="1753.70" x2="227.80" y2="2026.90" stroke="#eaeaea" stroke-width="2.5"/>
<line x1="407.80" y1="1753.70" x2="407.80" y2="2026.90" stroke="#eaeaea" stroke-width="2.5"/>
<line x1="587.80" y1="1753.70" x2="587.80" y2="2026.90" stroke="#eaeaea" stroke-width="2.5"/>
<line x1="137.40" y1="2014.30" x2="678.30" y2="2014.30" stroke="#eaeaea" stroke-width="2.5"/>
<line x1="137.40" y1="1937.37" x2="678.30" y2="1937.37" stroke="#eaeaea" stroke-width="2.5"/>
<line x1="137.40" y1="1860.43" x2="678.30" y2="1860.43" stroke="#eaeaea" stroke-width="2.5"/>
<line x1="137.40" y1="1783.49" x2="678.30" y2="1783.49" stroke="#eaeaea" stroke-width="2.5"/>
<g fill="#4d4d4d" fill-opacity="0.55">
<circle cx="393.6" cy="2013.7" r="3.3"/>
<circle cx="421.6" cy="2013.8" r="3.3"/>
<circle cx="411.8" cy="2014.0" r="3.3"/>
<circle cx="370.9" cy="2010.4" r="3.3"/>
<circle cx="369.2" cy="2010.3" r="3.3"/>
<circle cx="371.9" cy="2011.2" r="3.3"/>
<circle cx="402.2" cy="2013.2" r="3.3"/>
<circle cx="376.5" cy="2011.6" r="3.3"/>
<circle cx="419.6" cy="2012.6" r="3.3"/>
<circle cx="415.3" cy="2013.8" r="3.3"/>
<circle cx="449.4" cy="2010.4" r="3.3"/>
<circle cx="439.3" cy="2011.5" r="3.3"/>
<circle cx="378.3" cy="2012.0" r="3.3"/>
<circle cx="392.3" cy="2012.5" r="3.3"/>
<circle cx="381.4" cy="2011.7" r="3.3"/>
<circle cx="420.6" cy="2013.4" r="3.3"/>
<circle cx="412.8" cy="2014.2" r="3.3"/>
<circle cx="371.0" cy="2010.9" r="3.3"/>
<circle cx="424.1" cy="2013.0" r="3.3"/>
<circle cx="392.8" cy="2012.9" r="3.3"/>
<circle cx="404.7" cy="2014.2" r="3.3"/>
<circle cx="433.9" cy="2011.5" r="3.3"/>
<circle cx="386.8" cy="2012.3" r="3.3"/>
<circle cx="410.9" cy="2013.3" r="3.3"/>
<circle cx="428.3" cy="2012.8" r="3.3"/>
<circle cx="449.8" cy="2010.3" r="3.3"/>
<circle cx="401.7" cy="2013.3" r="3.3"/>
<circle cx="378.9" cy="2011.5" r="3.3"/>
<circle cx="369.3" cy="2009.9" r="3.3"/>
<circle cx="431.3" cy="2012.0" r="3.3"/>
<circle cx="440.8" cy="2011.3" r="3.3"/>
<circle cx="425.4" cy="2012.6" r="3.3"/>
<circle cx="415.5" cy="2013.7" r="3.3"/>
<circle cx="437.8" cy="2010.6" r="3.3"/>
<circle cx="406.5" cy="2013.7" r="3.3"/>
<circle cx="371.1" cy="2010.1" r="3.3"/>
<circle cx="421.3" cy="2012.4" r="3.3"/>
<circle cx="436.2" cy="2011.9" r="3.3"/>
<circle cx="398.9" cy="2013.3" r="3.3"/>
<circle cx="367.9" cy="2010.0" r="3.3"/>
<circle cx="380.3" cy="2012.3" r="3.3"/>
<circle cx="371.0" cy="2010.0" r="3.3"/>
<circle cx="377.0" cy="2011.7" r="3.3"/>
<circle cx="399.4" cy="2013.0" r="3.3"/>
<circle cx="372.8" cy="2010.8" r="3.3"/>
<circle cx="412.9" cy="2013.2" r="3.3"/>
<circle cx="436.0" cy="2011.0" r="3.3"/>
<circle cx="389.8" cy="2012.9" r="3.3"/>
<circle cx="396.6" cy="2012.7" r="3.3"/>
<circle cx="447.8" cy="2010.5" r="3.3"/>
<circle cx="381.0" cy="2012.2" r="3.3"/>
<circle cx="385.9" cy="2012.4" r="3.3"/>
<circle cx="416.3" cy="2013.9" r="3.3"/>
<circle cx="366.3" cy="2009.9" r="3.3"/>
<circle cx="397.5" cy="2013.3" r="3.3"/>
<circle cx="447.4" cy="2009.7" r="3.3"/>
<circle cx="410.0" cy="2013.7" r="3.3"/>
<circle cx="423.8" cy="2013.7" r="3.3"/>
<circle cx="442.9" cy="2010.2" r="3.3"/>
<circle cx="440.7" cy="2010.5" r="3.3"/>
<circle cx="399.5" cy="2013.7" r="3.3"/>
<circle cx="374.8" cy="2010.7" r="3.3"/>
<circle cx="371.3" cy="2011.2" r="3.3"/>
<circle cx="383.8" cy="2012.6" r="3.3"/>
<circle cx="395.0" cy="2014.0" r="3.3"/>
<circle cx="366.0" cy="2010.2" r="3.3"/>
<circle cx="374.6" cy="2011.2" r="3.3"/>
<circle cx="368.1" cy="2009.4" r="3.3"/>
<circle cx="418.5" cy="2014.0" r="3.3"/>
<circle cx="387.5" cy="2012.8" r="3.3"/>
<circle cx="397.1" cy="2014.0" r="3.3"/>
<circle cx="438.5" cy="2010.5" r="3.3"/>
<circle cx="405.8" cy="2013.9" r="3.3"/>
<circle cx="373.3" cy="2011.4" r="3.3"/>
<circle cx="395.2" cy="2013.6" r="3.3"/>
<circle cx="436.8" cy="2012.0" r="3.3"/>
<circle cx="367.9" cy="2009.2" r="3.3"/>
<circle cx="411.1" cy="2014.2" r="3.3"/>
<circle cx="412.4" cy="2014.2" r="3.3"/>
<circle cx="411.1" cy="2013.1" r="3.3"/>
<circle cx="439.8" cy="2010.8" r="3.3"/>
<circle cx="388.3" cy="2012.8" r="3.3"/>
<circle cx="380.2" cy="2011.2" r="3.3"/>
<circle cx="411.5" cy="2013.4" r="3.3"/>
<circle cx="394.1" cy="2013.6" r="3.3"/>
<circle cx="435.3" cy="2010.9" r="3.3"/>
<circle cx="438.8" cy="2010.7" r="3.3"/>
<circle cx="435.9" cy="2011.2" r="3.3"/>
<circle cx="385.3" cy="2012.2" r="3.3"/>
<circle cx="396.4" cy="2014.1" r="3.3"/>
<circle cx="368.3" cy="2010.4" r="3.3"/>
<circle cx="388.1" cy="2012.3" r="3.3"/>
<circle cx="447.7" cy="2010.1" r="3.3"/>
<circle cx="446.1" cy="2009.4" r="3.3"/>
<circle cx="447.6" cy="2010.2" r="3.3"/>
<circle cx="384.8" cy="2012.7" r="3.3"/>
<circle cx="382.8" cy="2012.5" r="3.3"/>
<circle cx="419.3" cy="2012.7" r="3.3"/>
<circle cx="437.8" cy="2011.4" r="3.3"/>
<circle cx="421.8" cy="2012.6" r="3.3"/>
<circle cx="373.2" cy="2010.5" r="3.3"/>
<circle cx="443.7" cy="2010.1" r="3.3"/>
<circle cx="430.1" cy="2012.3" r="3.3"/>
<circle cx="381.2" cy="2011.3" r="3.3"/>
<circle cx="394.4" cy="2012.7" r="3.3"/>
<circle cx="449.0" cy="2009.9" r="3.3"/>
<circle cx="400.3" cy="2012.9" r="3.3"/>
<circle cx="427.9" cy="2013.1" r="3.3"/>
<circle cx="376.8" cy="2011.8" r="3.3"/>
<circle cx="443.3" cy="2010.1" r="3.3"/>
<circle cx="378.4" cy="2010.9" r="3.3"/>
<circle cx="449.8" cy="2009.4" r="3.3"/>
<circle cx="395.9" cy="2013.2" r="3.3"/>
<circle cx="377.1" cy="2012.1" r="3.3"/>
<circle cx="449.0" cy="2009.5" r="3.3"/>
<circle cx="411.0" cy="2013.2" r="3.3"/>
<circle cx="403.0" cy="2013.2" r="3.3"/>
<circle cx="436.6" cy="2012.0" r="3.3"/>
<circle cx="387.5" cy="2012.8" r="3.3"/>
<circle cx="386.5" cy="2012.3" r="3.3"/>
<circle cx="388.1" cy="2012.7" r="3.3"/>
<circle cx="377.2" cy="2010.6" r="3.3"/>
<circle cx="396.2" cy="2013.4" r="3.3"/>
<circle cx="415.8" cy="2012.9" r="3.3"/>
<circle cx="401.9" cy="2013.1" r="3.3"/>
<circle cx="408.8" cy="2013.9" r="3.3"/>
<circle cx="410.7" cy="2014.2" r="3.3"/>
<circle cx="403.6" cy="2014.2" r="3.3"/>
<circle cx="366.3" cy="2009.2" r="3.3"/>
<circle cx="380.7" cy="2011.8" r="3.3"/>
<circle cx="428.0" cy="2012.4" r="3.3"/>
<circle cx="393.8" cy="2013.1" r="3.3"/>
<circle cx="413.4" cy="2013.3" r="3.3"/>
<circle cx="375.0" cy="2010.9" r="3.3"/>
<circle cx="387.2" cy="2012.8" r="3.3"/>
<circle cx="432.0" cy="2012.1" r="3.3"/>
<circle cx="414.0" cy="2013.3" r="3.3"/>
<circle cx="444.0" cy="2010.6" r="3.3"/>
<circle cx="418.3" cy="2013.4" r="3.3"/>
<circle cx="409.7" cy="2013.6" r="3.3"/>
<circle cx="404.6" cy="2013.8" r="3.3"/>
<circle cx="406.8" cy="2013.2" r="3.3"/>
<circle cx="425.7" cy="2012.1" r="3.3"/>
<circle cx="446.5" cy="2010.5" r="3.3"/>
<circle cx="413.8" cy="2013.0" r="3.3"/>
<circle cx="437.8" cy="2011.9" r="3.3"/>
<circle cx="376.3" cy="2011.3" r="3.3"/>
<circle cx="372.2" cy="2011.0" r="3.3"/>
<circle cx="372.2" cy="2010.3" r="3.3"/>
<circle cx="433.0" cy="2011.3" r="3.3"/>
<circle cx="379.2" cy="2011.2" r="3.3"/>
<circle cx="422.4" cy="2013.6" r="3.3"/>
<circle cx="441.4" cy="2010.1" r="3.3"/>
<circle cx="384.7" cy="2011.5" r="3.3"/>
<circle cx="400.0" cy="2013.6" r="3.3"/>
<circle cx="450.6" cy="2009.0" r="3.3"/>
<circle cx="379.8" cy="2011.7" r="3.3"/>
<circle cx="410.0" cy="2014.2" r="3.3"/>
<circle cx="382.7" cy="2012.3" r="3.3"/>
<circle cx="427.7" cy="2013.3" r="3.3"/>
<circle cx="413.3" cy="2013.8" r="3.3"/>
<circle cx="367.5" cy="2010.2" r="3.3"/>
<circle cx="419.3" cy="2013.3" r="3.3"/>
<circle cx="371.4" cy="2009.7" r="3.3"/>
<circle cx="433.4" cy="2011.2" r="3.3"/>
<circle cx="374.9" cy="2011.4" r="3.3"/>
<circle cx="369.3" cy="2009.7" r="3.3"/>
<circle cx="389.1" cy="2013.3" r="3.3"/>
<circle cx="402.1" cy="2013.1" r="3.3"/>
<circle cx="436.0" cy="2012.0" r="3.3"/>
<circle cx="378.7" cy="2010.8" r="3.3"/>
<circle cx="414.7" cy="2013.3" r="3.3"/>
<circle cx="373.6" cy="2011.5" r="3.3"/>
<circle cx="424.8" cy="2013.0" r="3.3"/>
<circle cx="372.1" cy="2009.9" r="3.3"/>
<circle cx="420.2" cy="2012.8" r="3.3"/>
<circle cx="373.1" cy="2010.1" r="3.3"/>
<circle cx="371.6" cy="2009.9" r="3.3"/>
<circle cx="404.7" cy="2014.1" r="3.3"/>
<circle cx="413.2" cy="2013.1" r="3.3"/>
<circle cx="388.9" cy="2013.2" r="3.3"/>
<circle cx="411.0" cy="2014.2" r="3.3"/>
<circle cx="375.3" cy="2011.6" r="3.3"/>
<circle cx="370.3" cy="2010.8" r="3.3"/>
<circle cx="392.6" cy="2013.3" r="3.3"/>
<circle cx="430.9" cy="2012.5" r="3.3"/>
<circle cx="408.7" cy="2014.2" r="3.3"/>
<circle cx="395.6" cy="2014.1" r="3.3"/>
<circle cx="387.4" cy="2013.3" r="3.3"/>
<circle cx="428.6" cy="2012.4" r="3.3"/>
<circle cx="367.9" cy="2010.9" r="3.3"/>
<circle cx="444.6" cy="2008.5" r="3.3"/>
<circle cx="448.8" cy="2009.6" r="3.3"/>
<circle cx="451.2" cy="2010.7" r="3.3"/>
<circle cx="364.3" cy="2010.5" r="3.3"/>
<circle cx="368.7" cy="2010.5" r="3.3"/>
<circle cx="365.4" cy="2011.9" r="3.3"/>
<circle cx="447.1" cy="2011.8" r="3.3"/>
<circle cx="450.5" cy="2009.1" r="3.3"/>
<circle cx="448.4" cy="2009.0" r="3.3"/>
</g>
<g fill="#228b22" fill-opacity="0.55">
<circle cx="350.8" cy="2010.7" r="3.6"/>
<circle cx="348.9" cy="2014.2" r="3.6"/>
<circle cx="356.7" cy="2010.3" r="3.6"/>
<circle cx="358.7" cy="2014.2" r="3.6"/>
<circle cx="353.5" cy="2012.0" r="3.6"/>
<circle cx="481.9" cy="2010.7" r="3.6"/>
<circle cx="497.5" cy="2008.7" r="3.6"/>
<circle cx="488.7" cy="2009.7" r="3.6"/>
<circle cx="476.0" cy="2011.5" r="3.6"/>
</g>
<g fill="#4169e1" fill-opacity="0.55">
<circle cx="364.1" cy="1994.5" r="3.6"/>
<circle cx="370.4" cy="1990.2" r="3.6"/>
<circle cx="372.3" cy="1991.2" r="3.6"/>
<circle cx="365.5" cy="2001.9" r="3.6"/>
<circle cx="373.3" cy="1998.0" r="3.6"/>
<circle cx="376.3" cy="1999.0" r="3.6"/>
<circle cx="379.2" cy="2000.0" r="3.6"/>
<circle cx="382.1" cy="2000.9" r="3.6"/>
<circle cx="385.0" cy="2001.5" r="3.6"/>
<circle cx="387.0" cy="2002.9" r="3.6"/>
<circle cx="374.3" cy="2001.9" r="3.6"/>
<circle cx="371.4" cy="2003.8" r="3.6"/>
<circle cx="368.0" cy="1997.0" r="3.6"/>
<circle cx="377.5" cy="2003.0" r="3.6"/>
<circle cx="381.0" cy="2004.0" r="3.6"/>
<circle cx="384.0" cy="2004.5" r="3.6"/>
<circle cx="367.5" cy="2004.5" r="3.6"/>
<circle cx="389.5" cy="2004.5" r="3.6"/>
<circle cx="440.4" cy="1997.0" r="3.6"/>
<circle cx="438.9" cy="2000.0" r="3.6"/>
<circle cx="436.9" cy="2002.9" r="3.6"/>
<circle cx="441.8" cy="2000.9" r="3.6"/>
<circle cx="434.0" cy="2004.8" r="3.6"/>
<circle cx="430.5" cy="2005.0" r="3.6"/>
<circle cx="427.0" cy="2005.2" r="3.6"/>
<circle cx="443.5" cy="2003.5" r="3.6"/>
<circle cx="446.0" cy="2001.0" r="3.6"/>
<circle cx="448.0" cy="2004.0" r="3.6"/>
</g>
<g fill="#ee0000" fill-opacity="0.55">
<circle cx="218.9" cy="1830.9" r="3.6"/>
<circle cx="309.0" cy="1912.6" r="3.6"/>
<circle cx="198.4" cy="1973.0" r="3.6"/>
<circle cx="238.9" cy="1999.3" r="3.6"/>
<circle cx="286.9" cy="1972.0" r="3.6"/>
<circle cx="301.8" cy="1975.9" r="3.6"/>
<circle cx="315.3" cy="1978.8" r="3.6"/>
<circle cx="336.4" cy="1966.7" r="3.6"/>
<circle cx="344.4" cy="1978.8" r="3.6"/>
<circle cx="310.8" cy="1997.6" r="3.6"/>
<circle cx="314.7" cy="2000.9" r="3.6"/>
<circle cx="322.5" cy="1999.0" r="3.6"/>
<circle cx="314.7" cy="2003.8" r="3.6"/>
<circle cx="342.0" cy="1995.0" r="3.6"/>
<circle cx="345.0" cy="1998.0" r="3.6"/>
<circle cx="347.0" cy="1999.3" r="3.6"/>
<circle cx="343.0" cy="2001.9" r="3.6"/>
<circle cx="361.6" cy="2003.8" r="3.6"/>
<circle cx="360.6" cy="2006.8" r="3.6"/>
<circle cx="346.0" cy="1997.0" r="3.6"/>
<circle cx="344.0" cy="1999.5" r="3.6"/>
<circle cx="549.9" cy="1773.6" r="3.6"/>
<circle cx="597.8" cy="1811.1" r="3.6"/>
<circle cx="572.0" cy="1830.3" r="3.6"/>
<circle cx="536.2" cy="1858.8" r="3.6"/>
<circle cx="522.1" cy="1869.2" r="3.6"/>
<circle cx="517.0" cy="1874.7" r="3.6"/>
<circle cx="493.0" cy="1884.6" r="3.6"/>
<circle cx="545.8" cy="1905.5" r="3.6"/>
<circle cx="524.1" cy="1922.2" r="3.6"/>
<circle cx="536.4" cy="1946.4" r="3.6"/>
<circle cx="506.9" cy="1961.8" r="3.6"/>
<circle cx="504.9" cy="1965.1" r="3.6"/>
<circle cx="529.0" cy="1967.5" r="3.6"/>
<circle cx="535.4" cy="1975.5" r="3.6"/>
<circle cx="633.3" cy="1987.6" r="3.6"/>
<circle cx="498.7" cy="1970.6" r="3.6"/>
<circle cx="462.3" cy="1975.1" r="3.6"/>
<circle cx="482.8" cy="1980.0" r="3.6"/>
<circle cx="490.6" cy="1981.4" r="3.6"/>
<circle cx="480.9" cy="1984.3" r="3.6"/>
<circle cx="473.0" cy="1987.2" r="3.6"/>
<circle cx="490.6" cy="1992.1" r="3.6"/>
<circle cx="479.9" cy="1994.1" r="3.6"/>
<circle cx="491.6" cy="1996.0" r="3.6"/>
<circle cx="464.3" cy="1988.2" r="3.6"/>
<circle cx="457.4" cy="1991.1" r="3.6"/>
<circle cx="452.5" cy="1994.1" r="3.6"/>
<circle cx="463.3" cy="1998.0" r="3.6"/>
<circle cx="473.0" cy="1999.0" r="3.6"/>
<circle cx="469.2" cy="2001.9" r="3.6"/>
<circle cx="459.4" cy="2000.9" r="3.6"/>
<circle cx="454.5" cy="2001.9" r="3.6"/>
<circle cx="479.9" cy="1988.2" r="3.6"/>
<circle cx="456.0" cy="2004.0" r="3.6"/>
<circle cx="466.0" cy="2003.5" r="3.6"/>
<circle cx="461.5" cy="1996.0" r="3.6"/>
<circle cx="470.5" cy="1993.0" r="3.6"/>
<circle cx="481.5" cy="1983.0" r="3.6"/>
</g>
<line x1="362.80" y1="1753.70" x2="362.80" y2="2026.90" stroke="#0a0a0a" stroke-width="1.4" stroke-dasharray="6 3.2"/>
<line x1="452.80" y1="1753.70" x2="452.80" y2="2026.90" stroke="#0a0a0a" stroke-width="1.4" stroke-dasharray="6 3.2"/>
<line x1="137.40" y1="2006.90" x2="678.30" y2="2006.90" stroke="#0a0a0a" stroke-width="1.4" stroke-dasharray="6 3.2"/>
<line x1="137.40" y1="1753.70" x2="137.40" y2="2027.80" stroke="#000" stroke-width="1.8"/>
<line x1="136.50" y1="2026.90" x2="678.30" y2="2026.90" stroke="#000" stroke-width="1.8"/>
<line x1="227.80" y1="2026.90" x2="227.80" y2="2035.10" stroke="#000" stroke-width="2.5"/>
<text x="227.5" y="2057.6" font-size="23.4" text-anchor="middle" fill="#4d4d4d" stroke="#4d4d4d" stroke-width="0.3">−4</text>
<line x1="407.80" y1="2026.90" x2="407.80" y2="2035.10" stroke="#000" stroke-width="2.5"/>
<text x="408.3" y="2057.6" font-size="23.4" text-anchor="middle" fill="#4d4d4d" stroke="#4d4d4d" stroke-width="0.3">0</text>
<line x1="587.80" y1="2026.90" x2="587.80" y2="2035.10" stroke="#000" stroke-width="2.5"/>
<text x="588.3" y="2057.6" font-size="23.4" text-anchor="middle" fill="#4d4d4d" stroke="#4d4d4d" stroke-width="0.3">4</text>
<line x1="129.20" y1="2014.30" x2="137.40" y2="2014.30" stroke="#000" stroke-width="2.5"/>
<text x="123.6" y="2022.8" font-size="23.4" text-anchor="end" fill="#4d4d4d" stroke="#4d4d4d" stroke-width="0.3">0</text>
<line x1="129.20" y1="1937.37" x2="137.40" y2="1937.37" stroke="#000" stroke-width="2.5"/>
<text x="123.6" y="1945.9" font-size="23.4" text-anchor="end" fill="#4d4d4d" stroke="#4d4d4d" stroke-width="0.3">50</text>
<line x1="129.20" y1="1860.43" x2="137.40" y2="1860.43" stroke="#000" stroke-width="2.5"/>
<text x="123.6" y="1868.9" font-size="23.4" text-anchor="end" fill="#4d4d4d" stroke="#4d4d4d" stroke-width="0.3">100</text>
<line x1="129.20" y1="1783.49" x2="137.40" y2="1783.49" stroke="#000" stroke-width="2.5"/>
<text x="123.6" y="1792.0" font-size="23.4" text-anchor="end" fill="#4d4d4d" stroke="#4d4d4d" stroke-width="0.3">150</text>
<g font-size="20.6" stroke="#000" stroke-width="0.3">
<text x="179.5" y="1850.4">SLC11A1</text>
<text x="277.0" y="1906.1">CD163</text>
<text x="174.1" y="1965.7">GLDN</text>
<text x="291.7" y="1962.4">AKR1B1</text>
<text x="210.8" y="1993.1">WIPF3</text>
<text x="316.1" y="1993.7">CD9</text>
<text x="507.9" y="1766.4">HLA−DPA1</text>
<text x="552.3" y="1804.5">HLA−DQB1</text>
<text x="491.7" y="1825.6">HLA−DMA</text>
<text x="543.5" y="1856.7">HLA−DPB1</text>
<text x="528.3" y="1879.2">HLA−DRA</text>
<text x="549.8" y="1911.6">TXN</text>
<text x="480.6" y="1921.8">PPA1</text>
<text x="538.6" y="1949.5">TNFAIP2</text>
<text x="469.8" y="1955.0">KLF6</text>
<text x="422.3" y="1971.6">RASSF3</text>
<text x="541.5" y="1981.4">CD83</text>
<text x="614.8" y="1983.3">SCIN</text>
<text x="434.6" y="1992.5">SRI</text>
<text x="442.8" y="2014.2">ALAS1</text>
</g>
<circle cx="172.1" cy="1695.0" r="8.0" fill="#4d4d4d" fill-opacity="0.5"/>
<circle cx="246.2" cy="1695.0" r="8.0" fill="#228b22" fill-opacity="0.5"/>
<circle cx="361.2" cy="1695.0" r="8.0" fill="#4169e1" fill-opacity="0.5"/>
<circle cx="474.7" cy="1695.0" r="8.0" fill="#ee0000" fill-opacity="0.5"/>
<text x="197.0" y="1700.9" font-size="18.2" stroke="#000" stroke-width="0.3">NS</text>
<text x="271.6" y="1699.6" font-size="18.2" stroke="#000" stroke-width="0.3">Log<tspan font-size="13.4" dy="4.2">2</tspan><tspan dy="-4.2"> FC</tspan></text>
<text x="387.0" y="1700.9" font-size="18.2" stroke="#000" stroke-width="0.3">p−value</text>
<text x="499.8" y="1699.6" font-size="18.2" stroke="#000" stroke-width="0.3">p<tspan dx="2.4">−</tspan><tspan dx="2.4">value and log</tspan><tspan font-size="13.4" dy="4.2">2</tspan><tspan dy="-4.2"> FC</tspan></text>
<text x="418.9" y="2082.6" font-size="23.2" text-anchor="middle" stroke="#000" stroke-width="0.3">Log<tspan font-size="16.6" dy="5.2">2</tspan><tspan dy="-5.2"> fold change</tspan></text>
<text transform="translate(65.2,1890.8) rotate(-90)" font-size="22.6" text-anchor="middle" stroke="#000" stroke-width="0.3">−Log<tspan font-size="16.6" dy="5.2">10</tspan><tspan dy="-5.2"> P</tspan></text>
<text x="679.4" y="2113.1" font-size="20.5" text-anchor="end" stroke="#000" stroke-width="0.3">total = 400 variables</text>
</g>
</svg>
</body>
</html>
